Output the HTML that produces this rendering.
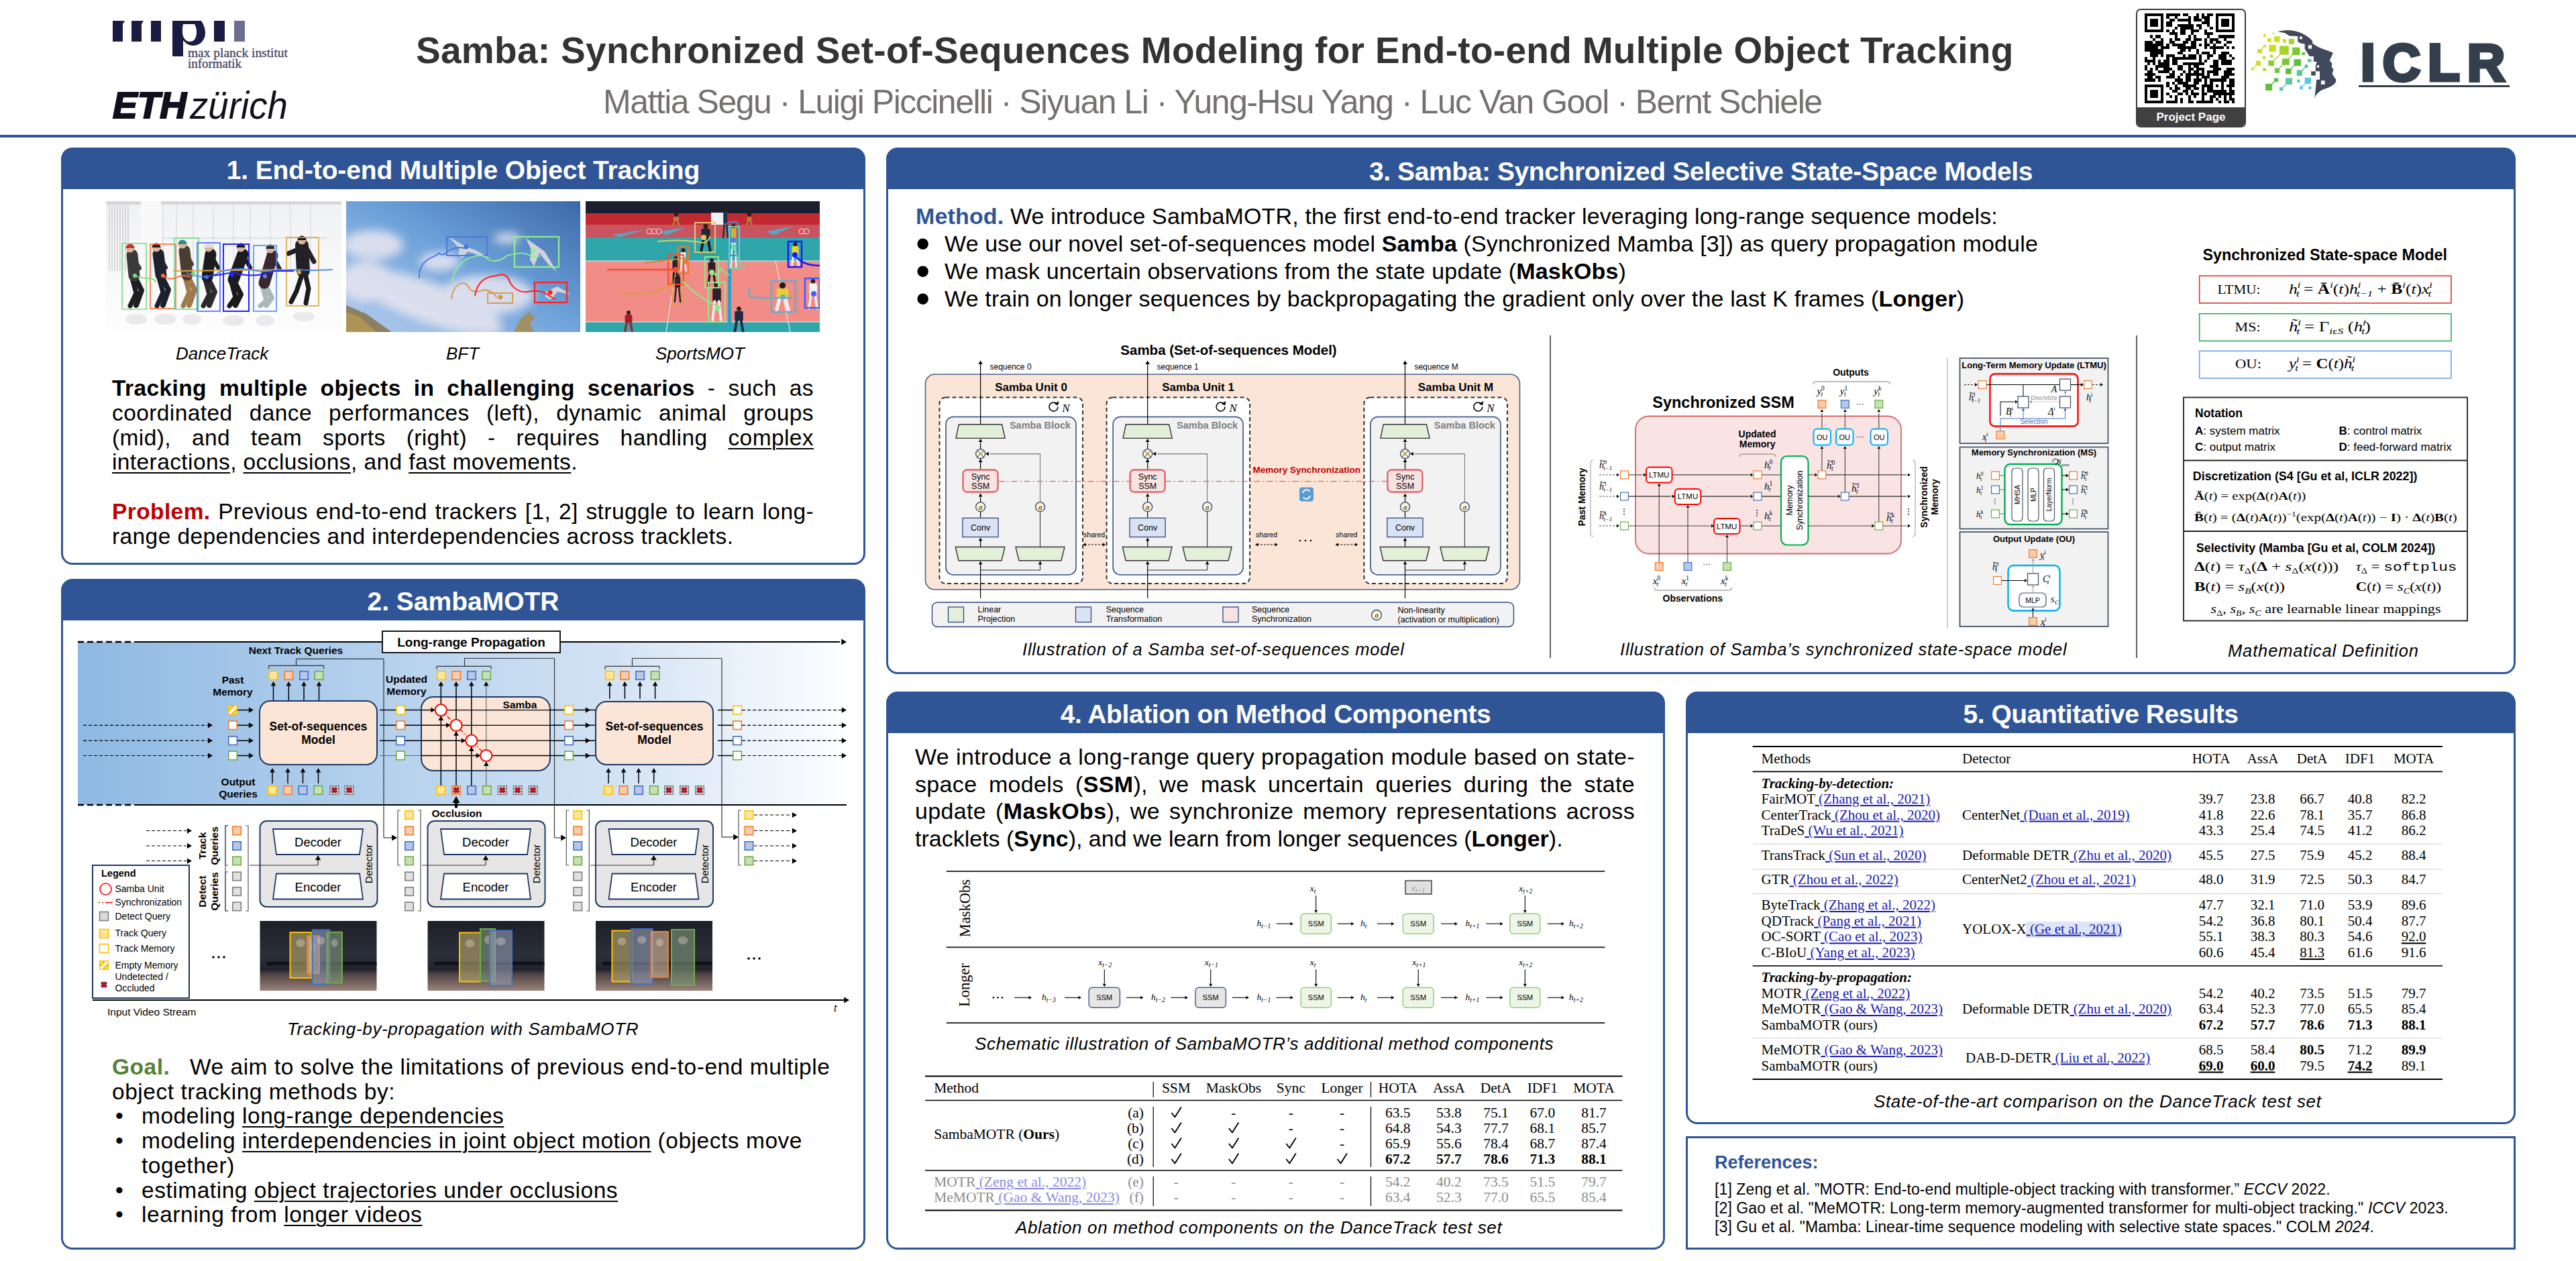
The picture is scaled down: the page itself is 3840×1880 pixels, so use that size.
<!DOCTYPE html>
<html><head><meta charset="utf-8">
<style>
*{margin:0;padding:0;box-sizing:border-box}
html,body{width:3840px;height:1880px;overflow:hidden;background:#fff}
body{position:relative;font-family:"Liberation Sans",sans-serif;color:#000}
.a{position:absolute;white-space:nowrap}
.panel{position:absolute;border:3px solid #2F5597;border-radius:17px;overflow:hidden;background:linear-gradient(#2F5597 0,#2F5597 30px,#fff 30px)}
.ph{position:absolute;left:0;top:0;right:0;background:#2F5597;color:#fff;font-weight:bold;text-align:center}
.serif{font-family:"Liberation Serif",serif}
.cap{font-style:italic;letter-spacing:0.65px}
svg{position:absolute;overflow:visible}
u{text-decoration:underline;text-decoration-thickness:2px;text-underline-offset:4px}
</style></head><body>

<!-- ===== HEADER ===== -->
<div id="hdr">
  <!-- MPI logo -->
  <svg style="left:0;top:0" width="3840" height="210" viewBox="0 0 3840 210">
    <g fill="#1A1C43">
      <path d="M168 31h18l-3 5v26h-15z"/>
      <path d="M196 31h18l-3 5v26h-15z"/>
      <rect x="225" y="31" width="15" height="31"/>
      <path d="M257 31h43c4 6 6 12 6 18c0 11-8 19-18 19c-6 0-11-3-15-8v24h-16z M273 36c-1 4-1 8-1 12c0 8 5 14 11 14c7 0 10-6 10-14c0-5-1-9-3-12z" fill-rule="evenodd"/>
      <rect x="319" y="31" width="16" height="31"/>
      <rect x="349" y="31" width="16" height="31" fill="#6A6F8F"/>
    </g>
    <text x="280" y="85" font-family="Liberation Serif" font-size="19.5" fill="#3F4262" stroke="#3F4262" stroke-width="0.3" textLength="149" lengthAdjust="spacingAndGlyphs">max planck institut</text>
    <text x="280" y="101" font-family="Liberation Serif" font-size="19.5" fill="#3F4262" stroke="#3F4262" stroke-width="0.3" textLength="80" lengthAdjust="spacingAndGlyphs">informatik</text>
    <text x="168" y="176" font-family="Liberation Sans" font-weight="bold" font-style="italic" font-size="55" fill="#110F1D" stroke="#110F1D" stroke-width="2.2" textLength="110" lengthAdjust="spacingAndGlyphs">ETH</text>
    <text x="283" y="177" font-family="Liberation Sans" font-style="italic" font-size="57" fill="#110F1D" textLength="146" lengthAdjust="spacingAndGlyphs">zürich</text>
  </svg>
  <!-- QR -->
  <div class="a" style="left:3184px;top:13px;width:164px;height:177px;border:2.5px solid #3a3a3a;border-radius:7px;background:#fff;overflow:hidden">
    <svg style="left:11px;top:5px" width="134" height="134" viewBox="0 0 33 33" shape-rendering="crispEdges"><path fill="#000" d="M0 0h7v1h-7zM8 0h5v1h-5zM14 0h2v1h-2zM19 0h1v1h-1zM21 0h1v1h-1zM23 0h2v1h-2zM26 0h7v1h-7zM0 1h1v1h-1zM6 1h1v1h-1zM8 1h1v1h-1zM11 1h1v1h-1zM16 1h1v1h-1zM18 1h2v1h-2zM21 1h3v1h-3zM26 1h1v1h-1zM32 1h1v1h-1zM0 2h1v1h-1zM2 2h3v1h-3zM6 2h1v1h-1zM9 2h2v1h-2zM12 2h5v1h-5zM18 2h3v1h-3zM22 2h2v1h-2zM26 2h1v1h-1zM28 2h3v1h-3zM32 2h1v1h-1zM0 3h1v1h-1zM2 3h3v1h-3zM6 3h1v1h-1zM8 3h2v1h-2zM16 3h1v1h-1zM21 3h3v1h-3zM26 3h1v1h-1zM28 3h3v1h-3zM32 3h1v1h-1zM0 4h1v1h-1zM2 4h3v1h-3zM6 4h1v1h-1zM8 4h2v1h-2zM12 4h6v1h-6zM19 4h2v1h-2zM23 4h1v1h-1zM26 4h1v1h-1zM28 4h3v1h-3zM32 4h1v1h-1zM0 5h1v1h-1zM6 5h1v1h-1zM11 5h1v1h-1zM13 5h5v1h-5zM20 5h1v1h-1zM24 5h1v1h-1zM26 5h1v1h-1zM32 5h1v1h-1zM0 6h7v1h-7zM8 6h1v1h-1zM10 6h1v1h-1zM13 6h2v1h-2zM17 6h3v1h-3zM22 6h1v1h-1zM26 6h7v1h-7zM9 7h3v1h-3zM13 7h2v1h-2zM17 7h1v1h-1zM22 7h3v1h-3zM2 8h1v1h-1zM4 8h2v1h-2zM11 8h1v1h-1zM16 8h1v1h-1zM18 8h1v1h-1zM23 8h1v1h-1zM27 8h6v1h-6zM3 9h1v1h-1zM6 9h1v1h-1zM9 9h1v1h-1zM11 9h2v1h-2zM15 9h2v1h-2zM18 9h3v1h-3zM22 9h1v1h-1zM24 9h3v1h-3zM29 9h1v1h-1zM0 10h3v1h-3zM4 10h3v1h-3zM9 10h2v1h-2zM14 10h2v1h-2zM17 10h2v1h-2zM22 10h1v1h-1zM24 10h1v1h-1zM26 10h2v1h-2zM30 10h2v1h-2zM0 11h7v1h-7zM8 11h1v1h-1zM10 11h5v1h-5zM17 11h2v1h-2zM20 11h1v1h-1zM22 11h2v1h-2zM25 11h1v1h-1zM29 11h1v1h-1zM0 12h5v1h-5zM6 12h3v1h-3zM12 12h7v1h-7zM22 12h1v1h-1zM24 12h5v1h-5zM30 12h1v1h-1zM32 12h1v1h-1zM0 13h7v1h-7zM13 13h2v1h-2zM16 13h1v1h-1zM19 13h1v1h-1zM25 13h1v1h-1zM2 14h5v1h-5zM12 14h2v1h-2zM19 14h1v1h-1zM21 14h3v1h-3zM25 14h1v1h-1zM28 14h3v1h-3zM2 15h3v1h-3zM6 15h1v1h-1zM8 15h3v1h-3zM14 15h1v1h-1zM16 15h3v1h-3zM20 15h1v1h-1zM23 15h2v1h-2zM27 15h3v1h-3zM31 15h1v1h-1zM0 16h1v1h-1zM3 16h1v1h-1zM8 16h1v1h-1zM10 16h9v1h-9zM20 16h1v1h-1zM23 16h1v1h-1zM27 16h3v1h-3zM32 16h1v1h-1zM0 17h4v1h-4zM5 17h1v1h-1zM7 17h2v1h-2zM10 17h2v1h-2zM20 17h1v1h-1zM22 17h1v1h-1zM25 17h2v1h-2zM28 17h4v1h-4zM1 18h1v1h-1zM3 18h1v1h-1zM5 18h4v1h-4zM10 18h2v1h-2zM14 18h8v1h-8zM25 18h2v1h-2zM28 18h4v1h-4zM0 19h1v1h-1zM4 19h5v1h-5zM12 19h2v1h-2zM16 19h1v1h-1zM18 19h2v1h-2zM24 19h3v1h-3zM0 20h1v1h-1zM2 20h1v1h-1zM4 20h1v1h-1zM7 20h3v1h-3zM12 20h2v1h-2zM16 20h2v1h-2zM19 20h3v1h-3zM25 20h3v1h-3zM30 20h3v1h-3zM1 21h2v1h-2zM5 21h4v1h-4zM10 21h1v1h-1zM14 21h1v1h-1zM16 21h1v1h-1zM18 21h2v1h-2zM21 21h1v1h-1zM23 21h4v1h-4zM29 21h3v1h-3zM0 22h4v1h-4zM9 22h2v1h-2zM13 22h1v1h-1zM15 22h7v1h-7zM23 22h1v1h-1zM25 22h2v1h-2zM29 22h4v1h-4zM1 23h2v1h-2zM4 23h2v1h-2zM8 23h3v1h-3zM12 23h1v1h-1zM15 23h2v1h-2zM19 23h1v1h-1zM21 23h3v1h-3zM28 23h3v1h-3zM0 24h4v1h-4zM5 24h1v1h-1zM11 24h3v1h-3zM15 24h2v1h-2zM18 24h3v1h-3zM22 24h1v1h-1zM24 24h6v1h-6zM31 24h2v1h-2zM8 25h1v1h-1zM10 25h1v1h-1zM12 25h4v1h-4zM18 25h2v1h-2zM22 25h1v1h-1zM24 25h1v1h-1zM28 25h1v1h-1zM31 25h2v1h-2zM0 26h7v1h-7zM8 26h1v1h-1zM11 26h1v1h-1zM14 26h5v1h-5zM21 26h4v1h-4zM26 26h1v1h-1zM28 26h1v1h-1zM30 26h3v1h-3zM0 27h1v1h-1zM6 27h1v1h-1zM9 27h1v1h-1zM11 27h2v1h-2zM15 27h2v1h-2zM18 27h2v1h-2zM21 27h1v1h-1zM23 27h2v1h-2zM28 27h1v1h-1zM31 27h1v1h-1zM0 28h1v1h-1zM2 28h3v1h-3zM6 28h1v1h-1zM10 28h2v1h-2zM14 28h2v1h-2zM17 28h1v1h-1zM21 28h1v1h-1zM23 28h7v1h-7zM31 28h2v1h-2zM0 29h1v1h-1zM2 29h3v1h-3zM6 29h1v1h-1zM8 29h1v1h-1zM12 29h2v1h-2zM15 29h1v1h-1zM17 29h3v1h-3zM21 29h2v1h-2zM25 29h8v1h-8zM0 30h1v1h-1zM2 30h3v1h-3zM6 30h1v1h-1zM9 30h1v1h-1zM11 30h1v1h-1zM16 30h1v1h-1zM18 30h1v1h-1zM21 30h1v1h-1zM24 30h2v1h-2zM27 30h1v1h-1zM29 30h1v1h-1zM31 30h1v1h-1zM0 31h1v1h-1zM6 31h1v1h-1zM11 31h1v1h-1zM13 31h1v1h-1zM16 31h1v1h-1zM21 31h1v1h-1zM24 31h1v1h-1zM26 31h1v1h-1zM29 31h1v1h-1zM31 31h2v1h-2zM0 32h7v1h-7zM8 32h4v1h-4zM13 32h1v1h-1zM16 32h2v1h-2zM19 32h6v1h-6zM27 32h1v1h-1zM29 32h2v1h-2zM32 32h1v1h-1z"/></svg>
    <div class="a" style="left:0;top:145px;width:160px;height:30px;background:#404040;color:#fff;font-weight:bold;font-size:17px;line-height:30px;text-align:center">Project Page</div>
  </div>
  <!-- ICLR -->
  <svg style="left:3350px;top:35px" width="140" height="120" viewBox="0 0 1471 1261"><rect x="250" y="165" width="45" height="45" fill="#D4E81C"/><rect x="395" y="145" width="25" height="25" fill="#D4E81C"/><rect x="315" y="230" width="60" height="60" fill="#CDE31E"/><rect x="420" y="200" width="90" height="90" fill="#C8E01E"/><rect x="555" y="245" width="55" height="55" fill="#C8E01E"/><rect x="650" y="240" width="85" height="85" fill="#A8D62A"/><rect x="255" y="335" width="40" height="40" fill="#C6E020"/><rect x="160" y="400" width="70" height="65" fill="#C6E020"/><rect x="340" y="335" width="110" height="110" fill="#C8E01E"/><rect x="505" y="350" width="145" height="140" fill="#A5D52A"/><rect x="705" y="375" width="120" height="120" fill="#7DC832"/><rect x="860" y="450" width="45" height="45" fill="#5BBF3A"/><rect x="240" y="510" width="45" height="45" fill="#C6E020"/><rect x="355" y="490" width="45" height="45" fill="#C2DD22"/><rect x="135" y="585" width="75" height="75" fill="#C8E01E"/><rect x="65" y="690" width="40" height="40" fill="#C8E01E"/><rect x="330" y="580" width="90" height="85" fill="#8CCB30"/><rect x="245" y="700" width="50" height="45" fill="#A8D62A"/><rect x="545" y="550" width="115" height="100" fill="#7AC733"/><rect x="730" y="560" width="110" height="105" fill="#5EBF3C"/><rect x="945" y="555" width="60" height="50" fill="#5DC88E"/><rect x="430" y="700" width="75" height="75" fill="#6FC535"/><rect x="600" y="705" width="90" height="90" fill="#5EBF3C"/><rect x="900" y="645" width="50" height="50" fill="#5DC48F"/><rect x="775" y="730" width="85" height="90" fill="#5DC49A"/><rect x="420" y="855" width="65" height="60" fill="#5EBF3C"/><rect x="285" y="945" width="105" height="105" fill="#5DBF3A"/><rect x="600" y="855" width="105" height="100" fill="#5DC6A0"/><rect x="505" y="1000" width="55" height="55" fill="#5DC6A0"/><rect x="780" y="880" width="45" height="45" fill="#5DC6B8"/><rect x="900" y="850" width="100" height="95" fill="#58C8EA"/><rect x="820" y="980" width="50" height="50" fill="#58C8EA"/><rect x="960" y="985" width="45" height="45" fill="#58C8EA"/><line x1="195" y1="430" x2="270" y2="355" stroke="#C6E020" stroke-width="14"/><line x1="85" y1="710" x2="170" y2="620" stroke="#C8E01E" stroke-width="14"/><line x1="375" y1="620" x2="520" y2="480" stroke="#A5D52A" stroke-width="14"/><line x1="465" y1="740" x2="600" y2="600" stroke="#7AC733" stroke-width="14"/><line x1="645" y1="750" x2="780" y2="610" stroke="#5EBF3C" stroke-width="14"/><line x1="600" y1="600" x2="720" y2="480" stroke="#7DC832" stroke-width="14"/><line x1="330" y1="1000" x2="450" y2="885" stroke="#5DBF3A" stroke-width="14"/><line x1="530" y1="1030" x2="650" y2="905" stroke="#5DC6A0" stroke-width="14"/><line x1="845" y1="1005" x2="950" y2="895" stroke="#58C8EA" stroke-width="14"/><line x1="820" y1="775" x2="925" y2="670" stroke="#5DC49A" stroke-width="14"/><path fill="#414A5C" d="M475 130C600 80 850 90 1020 270L1020 310C1100 380 1250 420 1345 460L1290 580L1330 630L1320 680L1350 720L1330 790L1390 880C1400 950 1300 1000 1200 1030C1130 1060 1080 1100 1055 1170L1085 880L1135 880L1135 750L1070 750L1070 660L1090 600L1040 600L1040 515L975 515L900 400L900 320L830 310L790 280L790 200L660 195L590 150Z"/><rect x="1000" y="750" width="70" height="65" fill="#414A5C"/><rect x="820" y="205" width="40" height="40" fill="#fff"/><rect x="955" y="340" width="55" height="55" fill="#fff"/><rect x="1090" y="655" width="35" height="35" fill="#fff"/><rect x="1155" y="895" width="60" height="60" fill="#fff"/></svg>
  <div class="a" style="left:3519px;top:48px;font-size:78px;font-weight:bold;color:#333F4D;line-height:90px;letter-spacing:11px;-webkit-text-stroke:5px #333F4D">ICLR</div>
  <div class="a" style="left:3516px;top:127px;width:225px;height:3px;background:#333F4D"></div>

  <div class="a" style="left:0;top:201px;width:3840px;height:4px;background:#2F5597"></div>
  <div class="a" id="title" style="left:620px;top:39.5px;font-size:55px;letter-spacing:0.3px;font-weight:bold;color:#333;line-height:70px">Samba: Synchronized Set-of-Sequences Modeling for End-to-end Multiple Object Tracking</div>
  <div class="a" id="authors" style="left:899px;top:121.5px;font-size:50px;letter-spacing:-1.5px;color:#767171;line-height:60px">Mattia Segu · Luigi Piccinelli · Siyuan Li · Yung-Hsu Yang · Luc Van Gool · Bernt Schiele</div>
</div>

<!-- ===== PANEL 1 ===== -->
<div class="panel" style="left:91px;top:220px;width:1199px;height:622px">
  <div class="ph" style="height:59px;font-size:39px;line-height:61px;letter-spacing:-0.14px">1. End-to-end Multiple Object Tracking</div>
</div>



<svg style="left:158px;top:300px;overflow:hidden" width="351" height="195" viewBox="0 0 351 195">
 <defs>
  <linearGradient id="dtbg" x1="0" y1="0" x2="0" y2="1"><stop offset="0" stop-color="#F0F1F3"/><stop offset="0.5" stop-color="#F8F8F9"/><stop offset="1" stop-color="#FDFDFD"/></linearGradient>
 </defs>
 <rect width="351" height="195" fill="url(#dtbg)"/>
 <rect x="0" y="0" width="351" height="5" fill="#D6D7DA"/>
 <g stroke="#C9CACD" stroke-width="1.3">
  <line x1="5" y1="5" x2="5" y2="104"/><line x1="9" y1="5" x2="9" y2="104"/><line x1="13" y1="5" x2="13" y2="104"/><line x1="17" y1="5" x2="17" y2="104"/><line x1="21" y1="5" x2="21" y2="104"/><line x1="25" y1="5" x2="25" y2="104"/><line x1="29" y1="5" x2="29" y2="104"/><line x1="33" y1="5" x2="33" y2="104"/>
 </g>
 <g stroke="#DADBDE" stroke-width="1.3" fill="none">
  <line x1="85" y1="5" x2="85" y2="104"/><line x1="105" y1="5" x2="105" y2="104"/><line x1="130" y1="5" x2="130" y2="104"/><line x1="160" y1="5" x2="160" y2="104"/><line x1="190" y1="5" x2="190" y2="104"/><line x1="215" y1="5" x2="215" y2="104"/><line x1="245" y1="5" x2="245" y2="104"/><line x1="275" y1="5" x2="275" y2="104"/><line x1="305" y1="5" x2="305" y2="104"/>
  <line x1="85" y1="55" x2="330" y2="55"/>
 </g>
 <rect x="52" y="0" width="30" height="130" fill="#F9F9FA"/>
 <g fill="#E6E6E8" opacity="0.8"><ellipse cx="45" cy="176" rx="16" ry="8"/><ellipse cx="88" cy="176" rx="16" ry="8"/><ellipse cx="128" cy="176" rx="14" ry="8"/><ellipse cx="190" cy="178" rx="16" ry="8"/><ellipse cx="237" cy="178" rx="14" ry="8"/><ellipse cx="295" cy="172" rx="16" ry="7"/></g><path d="M42 111L53 133L45 155" stroke="#1E1E22" stroke-width="8" fill="none" stroke-linejoin="round" stroke-linecap="round"/><path d="M38 111L45 137L36 156" stroke="#1E1E22" stroke-width="7" fill="none" stroke-linejoin="round" stroke-linecap="round"/><path d="M39 80L42 111" stroke="#3A3A3E" stroke-width="17" stroke-linecap="round"/><path d="M41 84L50 100" stroke="#3A3A3E" stroke-width="6" stroke-linecap="round"/><circle cx="36" cy="70" r="6.5" fill="#D8B49A"/><path d="M29.5 70a6.5 6.5 0 0 1 13 0z" fill="#C8343A"/><path d="M82 110L93 132L85 155" stroke="#1C1F2C" stroke-width="8" fill="none" stroke-linejoin="round" stroke-linecap="round"/><path d="M78 110L85 136L76 156" stroke="#1C1F2C" stroke-width="7" fill="none" stroke-linejoin="round" stroke-linecap="round"/><path d="M78 79L82 110" stroke="#1F2230" stroke-width="17" stroke-linecap="round"/><path d="M80 83L89 99" stroke="#1F2230" stroke-width="6" stroke-linecap="round"/><circle cx="75" cy="69" r="6.5" fill="#D8B49A"/><path d="M68.5 69a6.5 6.5 0 0 1 13 0z" fill="#2A2220"/><path d="M121 110L132 132L124 155" stroke="#A07A48" stroke-width="8" fill="none" stroke-linejoin="round" stroke-linecap="round"/><path d="M117 110L124 136L115 156" stroke="#A07A48" stroke-width="7" fill="none" stroke-linejoin="round" stroke-linecap="round"/><path d="M117 74L121 110" stroke="#4A3E30" stroke-width="17" stroke-linecap="round"/><path d="M119 78L128 94" stroke="#4A3E30" stroke-width="6" stroke-linecap="round"/><circle cx="114" cy="64" r="6.5" fill="#D8B49A"/><path d="M107.5 64a6.5 6.5 0 0 1 13 0z" fill="#2F8F88"/><path d="M151 113L162 135L154 155" stroke="#2A2A2A" stroke-width="8" fill="none" stroke-linejoin="round" stroke-linecap="round"/><path d="M147 113L154 139L145 156" stroke="#2A2A2A" stroke-width="7" fill="none" stroke-linejoin="round" stroke-linecap="round"/><path d="M156 79L151 113" stroke="#1C1C1C" stroke-width="17" stroke-linecap="round"/><path d="M158 83L167 99" stroke="#1C1C1C" stroke-width="6" stroke-linecap="round"/><circle cx="153" cy="69" r="6.5" fill="#D8B49A"/><path d="M146.5 69a6.5 6.5 0 0 1 13 0z" fill="#E0E0E0"/><path d="M190 117L201 139L193 155" stroke="#1A1A1A" stroke-width="8" fill="none" stroke-linejoin="round" stroke-linecap="round"/><path d="M186 117L193 143L184 156" stroke="#1A1A1A" stroke-width="7" fill="none" stroke-linejoin="round" stroke-linecap="round"/><path d="M204 79L190 117" stroke="#1C1C1E" stroke-width="17" stroke-linecap="round"/><path d="M206 83L215 99" stroke="#1C1C1E" stroke-width="6" stroke-linecap="round"/><circle cx="201" cy="69" r="6.5" fill="#D8B49A"/><path d="M194.5 69a6.5 6.5 0 0 1 13 0z" fill="#22201F"/><path d="M236 122L247 144L239 155" stroke="#A9B9BA" stroke-width="8" fill="none" stroke-linejoin="round" stroke-linecap="round"/><path d="M232 122L239 148L230 156" stroke="#A9B9BA" stroke-width="7" fill="none" stroke-linejoin="round" stroke-linecap="round"/><path d="M248 81L236 122" stroke="#3A2730" stroke-width="17" stroke-linecap="round"/><path d="M250 85L259 101" stroke="#3A2730" stroke-width="6" stroke-linecap="round"/><circle cx="245" cy="71" r="6.5" fill="#D8B49A"/><path d="M238.5 71a6.5 6.5 0 0 1 13 0z" fill="#2A2A2E"/><path d="M294 104L284 134L276 150" stroke="#1B1B1E" stroke-width="7" fill="none" stroke-linecap="round"/><path d="M296 104L302 130L298 152" stroke="#1B1B1E" stroke-width="7" fill="none" stroke-linecap="round"/><path d="M292 66L294 104" stroke="#222226" stroke-width="20" stroke-linecap="round"/><path d="M286 72L272 78M300 72L310 90" stroke="#222226" stroke-width="7" stroke-linecap="round"/><circle cx="292" cy="58" r="6.5" fill="#D8B49A"/><path d="M285.5 58a6.5 6.5 0 0 1 13 0z" fill="#1A1A1A"/><g fill="none" stroke-width="1.6">
  <rect x="24" y="63" width="36" height="98" stroke="#7EE07A"/>
  <rect x="66" y="64" width="38" height="96" stroke="#FF6A3D"/>
  <rect x="102" y="55" width="36" height="106" stroke="#6FDA8A"/>
  <rect x="136" y="62" width="34" height="102" stroke="#4466FF"/>
  <rect x="175" y="64" width="38" height="100" stroke="#2222FF" stroke-width="2"/>
  <rect x="220" y="66" width="34" height="98" stroke="#4E8FF0"/>
  <rect x="269" y="54" width="48" height="102" stroke="#D9A440"/>
  <path d="M43 111q10 4 22 4q6 0 10 6" stroke="#7EE07A" stroke-width="1.8"/>
  <path d="M85 111q10 8 22 2q10-4 20 0" stroke="#FF6A3D" stroke-width="1.8"/>
  <path d="M100 104l190-2" stroke="#D9A440" stroke-width="2.2"/>
  <path d="M120 107q30 12 50-2q30-8 60 0q50-4 80-2l28 -1" stroke="#4E8FF0" stroke-width="1.8"/>
  <path d="M150 112q20-2 40-6q30 10 60-2l30 0" stroke="#2222FF" stroke-width="2"/>
 </g>
 <g><circle cx="43" cy="111" r="3" fill="#7EE07A"/><circle cx="85" cy="111" r="3" fill="#FF6A3D"/><circle cx="130" cy="108" r="3" fill="#6FDA8A"/><circle cx="150" cy="113" r="3" fill="#4466FF"/><circle cx="188" cy="110" r="3" fill="#2222FF"/><circle cx="237" cy="112" r="3" fill="#4E8FF0"/><circle cx="288" cy="106" r="3" fill="#D9A440"/></g>
</svg>
<svg style="left:516px;top:300px;overflow:hidden" width="349" height="195" viewBox="0 0 349 195">
 <defs>
  <linearGradient id="sky" x1="1" y1="0" x2="0" y2="1"><stop offset="0" stop-color="#3D68A8"/><stop offset="0.45" stop-color="#6A9FD8"/><stop offset="1" stop-color="#B5CDEF"/></linearGradient>
  <filter id="blur6"><feGaussianBlur stdDeviation="7"/></filter>
 </defs>
 <rect width="349" height="195" fill="url(#sky)"/>
 <g fill="#E9E6F0" filter="url(#blur6)" opacity="0.85">
  <ellipse cx="40" cy="65" rx="45" ry="22"/>
  <ellipse cx="120" cy="150" rx="120" ry="30" transform="rotate(20 120 150)"/>
  <ellipse cx="210" cy="140" rx="70" ry="30"/>
  <ellipse cx="30" cy="120" rx="40" ry="30"/>
  <ellipse cx="240" cy="55" rx="20" ry="8"/>
  <ellipse cx="140" cy="90" rx="30" ry="14"/>
 </g>
 <path d="M0 155L30 168L68 195L0 195Z" fill="#8C7F62"/>
 <path d="M0 165L20 172L45 195L0 195Z" fill="#B39A52" opacity="0.8"/>
 <path d="M250 195l10-20l12-10l10 8l-8 10l6 12z" fill="#A98B45" opacity="0.8"/>
 <g fill="#CFD3DA"><path d="M153 53l26 15l14 5l22 12l-20-6l-14-4l-8 10l-6-6l2-8z"/><path d="M268 55l28 20l18 30l-12-10l-14-18l-8 20l-6-10l2-14z"/><path d="M297 135l18-8l20 12l-20-4l-10 12l-8-4z"/><path d="M218 150l30 0l14 4l-30 0z"/></g>
 <g fill="none" stroke-width="1.8">
  <rect x="150" y="53" width="60" height="28" stroke="#4E73D8"/>
  <rect x="251" y="53" width="66" height="45" stroke="#8EF08E" stroke-width="2.2"/>
  <rect x="211" y="137" width="37" height="15" stroke="#D99645"/>
  <rect x="281" y="121" width="48" height="30" stroke="#FF2020" stroke-width="2.2"/>
  <path d="M109 115q-2-20 16-30q14-6 12-8q8 6 14-2q12-8 25-5" stroke="#4E73D8"/>
  <path d="M158 119q6-28 30-36q16-6 24 4q14 6 28-6q20-6 30-2q10 6 20 2" stroke="#8EF08E"/>
  <path d="M157 146q2-20 16-24q8 0 12 10q10 6 20 0q12 0 20 12" stroke="#D99645"/>
  <path d="M192 141q4-28 32-30q16-6 20 10q10 16 26 14q20-4 30 4q8 6 12 7" stroke="#FF2020" stroke-width="2"/>
 </g>
 <circle cx="179" cy="68" r="3.5" fill="#4E73D8"/><circle cx="278" cy="74" r="3.5" fill="#8EF08E"/><circle cx="230" cy="143" r="3.5" fill="#D99645"/><circle cx="304" cy="136" r="3.5" fill="#FF2020"/>
</svg>
<svg style="left:873px;top:300px;overflow:hidden" width="349" height="195" viewBox="0 0 349 195">
 <rect width="349" height="195" fill="#F28C86"/>
 <rect width="349" height="18" fill="#1B1F30"/>
 <rect y="18" width="349" height="17" fill="#C22A31"/>
 <rect y="35" width="349" height="19" fill="#C9535E"/>
 <rect y="54" width="349" height="35" fill="#2EA6AA"/>
 <rect y="180" width="349" height="15" fill="#2EA6AA"/>
 <g fill="#3FB9D8" opacity="0.8"><path d="M40 50l50-8l-40 12z"/><path d="M110 45l40-6l-30 12z"/><path d="M270 45l40-8l-30 14z"/></g>
 <g fill="none" stroke="#fff" stroke-width="1" opacity="0.8"><circle cx="95" cy="45" r="4"/><circle cx="102" cy="45" r="4"/><circle cx="109" cy="45" r="4"/><circle cx="322" cy="45" r="4"/><circle cx="329" cy="45" r="4"/></g>
 <line x1="0" y1="89" x2="349" y2="89" stroke="#F6E6E6" stroke-width="1"/>
 <line x1="0" y1="180" x2="349" y2="180" stroke="#F6E6E6" stroke-width="1"/>
 <line x1="130" y1="130" x2="120" y2="195" stroke="#F6E6E6" stroke-width="1.2"/>
 <line x1="283" y1="89" x2="305" y2="195" stroke="#F6E6E6" stroke-width="1.2"/>
 
 <rect x="187" y="17" width="25" height="18" fill="#EEF0F4"/>
 <rect x="212" y="40" width="5" height="155" fill="#2F9FC6"/><circle cx="179.0" cy="37.52" r="3.52" fill="#2A1E1A"/><rect x="172.4" y="41.04" width="13.2" height="15.2" rx="2" fill="#2A2630"/><path d="M175.7 55.44L172.4 74M182.3 55.44L185.6 74" stroke="#1E1B24" stroke-width="4.0" stroke-linecap="round"/><circle cx="208.5" cy="13" r="3" fill="#2A1E1A"/><rect x="205.2" y="16" width="6.6" height="16.72" rx="2" fill="#22304A"/><path d="M206.85 31.84L205.2 54M210.15 31.84L211.8 54" stroke="#22304A" stroke-width="2.5" stroke-linecap="round"/><circle cx="145.5" cy="73" r="3" fill="#2A1E1A"/><rect x="141.6" y="76" width="7.8" height="12.92" rx="2" fill="#F0F0F0"/><path d="M143.55 88.24L141.6 104M147.45 88.24L149.4 104" stroke="#E8E8E8" stroke-width="2.5" stroke-linecap="round"/><circle cx="134.5" cy="85" r="3" fill="#2A1E1A"/><rect x="129.4" y="88" width="10.2" height="15.2" rx="2" fill="#2A2228"/><path d="M131.95 102.4L129.4 122M137.05 102.4L139.6 122" stroke="#1E1B24" stroke-width="3.1" stroke-linecap="round"/><circle cx="137.0" cy="109" r="3" fill="#2A1E1A"/><rect x="132.8" y="112" width="8.4" height="16.72" rx="2" fill="#2A2228"/><path d="M134.9 127.84L132.8 150M139.1 127.84L141.2 150" stroke="#2A2228" stroke-width="2.5" stroke-linecap="round"/><circle cx="188.0" cy="88" r="3" fill="#2A1E1A"/><rect x="182.6" y="91" width="10.799999999999999" height="15.96" rx="2" fill="#2A2228"/><path d="M185.3 106.12L182.6 127M190.7 106.12L193.4 127" stroke="#1E1B24" stroke-width="3.2" stroke-linecap="round"/><circle cx="195.5" cy="126.36" r="3.36" fill="#2A1E1A"/><rect x="189.2" y="129.72" width="12.6" height="20.52" rx="2" fill="#2A2228"/><path d="M192.35 149.16L189.2 177M198.65 149.16L201.8 177" stroke="#EDEDED" stroke-width="3.8" stroke-linecap="round"/><circle cx="228.5" cy="160.36" r="3.36" fill="#2A1E1A"/><rect x="222.2" y="163.72" width="12.6" height="14.44" rx="2" fill="#1F2A44"/><path d="M225.35 177.4L222.2 195M231.65 177.4L234.8 195" stroke="#1F2A44" stroke-width="3.8" stroke-linecap="round"/><circle cx="64.0" cy="166" r="3" fill="#2A1E1A"/><rect x="58.6" y="169" width="10.799999999999999" height="12.16" rx="2" fill="#A51E2A"/><path d="M61.3 180.52L58.6 195M66.7 180.52L69.4 195" stroke="#A51E2A" stroke-width="3.2" stroke-linecap="round"/><circle cx="293.5" cy="125.64" r="4.64" fill="#2A1E1A"/><rect x="284.8" y="130.28" width="17.4" height="15.58" rx="2" fill="#E6D22E"/><path d="M289.15 145.04L284.8 162M297.85 145.04L302.2 162" stroke="#F0F0F0" stroke-width="5.2" stroke-linecap="round"/><circle cx="339.0" cy="119.2" r="3.2" fill="#2A1E1A"/><rect x="333.0" y="122.4" width="12.0" height="16.72" rx="2" fill="#F2F2F2"/><path d="M336.0 138.24L333.0 160M342.0 138.24L345.0 160" stroke="#F0F0F0" stroke-width="3.6" stroke-linecap="round"/><circle cx="312.5" cy="64" r="3" fill="#2A1E1A"/><rect x="307.4" y="67" width="10.2" height="13.3" rx="2" fill="#E6D22E"/><path d="M309.95 79.6L307.4 96M315.05 79.6L317.6 96" stroke="#F0F0F0" stroke-width="3.1" stroke-linecap="round"/><circle cx="220.5" cy="37" r="3" fill="#2A1E1A"/><rect x="216.6" y="40" width="7.8" height="24.32" rx="2" fill="#D4B030"/><path d="M218.55 63.04L216.6 98M222.45 63.04L224.4 98" stroke="#F0F0F0" stroke-width="2.5" stroke-linecap="round"/><circle cx="135.0" cy="20" r="3" fill="#2A1E1A"/><rect x="130.8" y="23" width="8.4" height="6.84" rx="2" fill="#C07A40"/><path d="M132.9 29.48L130.8 35M137.1 29.48L139.2 35" stroke="#C07A40" stroke-width="2.5" stroke-linecap="round"/><circle cx="244.0" cy="20" r="3" fill="#2A1E1A"/><rect x="240.4" y="23" width="7.199999999999999" height="6.84" rx="2" fill="#C07A40"/><path d="M242.2 29.48L240.4 35M245.8 29.48L247.6 35" stroke="#C07A40" stroke-width="2.5" stroke-linecap="round"/>
 <g fill="none" stroke-width="2">
  <rect x="163" y="32" width="30" height="44" stroke="#D8CC66"/>
  <rect x="138" y="68" width="15" height="40" stroke="#E87A35"/>
  <rect x="123" y="80" width="23" height="44" stroke="#FF4A2A"/>
  <rect x="129" y="105" width="15" height="48" stroke="#D9A040" opacity="0.7"/>
  <rect x="178" y="83" width="20" height="46" stroke="#8EEA8A"/>
  <rect x="183" y="121" width="25" height="59" stroke="#8EEA8A"/>
  <rect x="214" y="31" width="13" height="50" stroke="#4E80E8"/>
  <rect x="214" y="38" width="15" height="62" stroke="#6ED8A8"/>
  <rect x="302" y="60" width="20" height="38" stroke="#1A1AFF" stroke-width="2.5"/>
  <rect x="277" y="119" width="36" height="46" stroke="#5FB0D0" stroke-width="2.5"/>
  <rect x="327" y="115" width="22" height="44" stroke="#3A60FF" stroke-width="2.5"/>
  <path d="M107 60q30-4 70 2q8-4 8-10" stroke="#D8CC66"/>
  <path d="M88 92l65-8" stroke="#E87A35"/>
  <path d="M32 102l108 0" stroke="#FF4A2A" stroke-width="2.5"/>
  <path d="M51 136q40 8 80-12" stroke="#D9A040"/>
  <path d="M145 120q30 30 58 38" stroke="#8EEA8A"/>
  <path d="M188 106q8 10 14-6q6 8 12 10" stroke="#8EEA8A"/>
  <path d="M221 68q8 30 18 30" stroke="#6ED8A8"/>
  <path d="M312 80q10 16 37 16" stroke="#1A1AFF" stroke-width="2.5"/>
  <path d="M246 130q-10 14 12 14l50 0" stroke="#5FB0D0" stroke-width="2.5"/>
 </g>
 <g><circle cx="176" cy="54" r="4" fill="#D8CC66"/><circle cx="148" cy="90" r="4" fill="#E87A35"/><circle cx="134" cy="102" r="4" fill="#FF4A2A"/><circle cx="188" cy="106" r="4" fill="#8EEA8A"/><circle cx="196" cy="160" r="4" fill="#8EEA8A"/><circle cx="220" cy="58" r="4" fill="#4E80E8"/><circle cx="221" cy="68" r="4" fill="#6ED8A8"/><circle cx="312" cy="80" r="4" fill="#1A1AFF"/><circle cx="294" cy="143" r="4" fill="#5FB0D0"/><circle cx="340" cy="138" r="4" fill="#3A60FF"/></g>
</svg>
<div class="a cap" style="left:262px;top:512px;letter-spacing:0;font-size:26px;line-height:30px">DanceTrack</div>
<div class="a cap" style="left:665px;top:512px;letter-spacing:0;font-size:26px;line-height:30px">BFT</div>
<div class="a cap" style="left:977px;top:512px;letter-spacing:0;font-size:26px;line-height:30px">SportsMOT</div>
<div class="a" id="p1txt" style="left:167px;top:561px;width:1046px;font-size:33.5px;line-height:36.8px;letter-spacing:0.4px">
<div style="text-align:justify;text-align-last:justify"><b>Tracking multiple objects in challenging scenarios</b> - such as</div>
<div style="text-align:justify;text-align-last:justify">coordinated dance performances (left), dynamic animal groups</div>
<div style="text-align:justify;text-align-last:justify">(mid), and team sports (right) - requires handling <u>complex</u></div>
<div><u>interactions</u>, <u>occlusions</u>, and <u>fast movements</u>.</div>
<div>&nbsp;</div>
<div style="text-align:justify;text-align-last:justify"><b style="color:#C00000">Problem.</b> Previous end-to-end trackers [1, 2] struggle to learn long-</div>
<div>range dependencies and interdependencies across tracklets.</div>
</div>

<!-- ===== PANEL 2 ===== -->
<div class="panel" style="left:91px;top:863px;width:1199px;height:1000px">
  <div class="ph" style="height:59px;font-size:39px;line-height:61px">2. SambaMOTR</div>
</div>

<!-- P2CONTENT --><svg style="left:100px;top:930px" width="1180" height="600" viewBox="100 930 1180 600" font-family="Liberation Sans, sans-serif"><defs><linearGradient id="p2bg" x1="0" y1="0" x2="1" y2="0"><stop offset="0" stop-color="#8EB9E3"/><stop offset="0.45" stop-color="#BAD4EE"/><stop offset="0.7" stop-color="#D3E3F4"/><stop offset="1" stop-color="#FDFEFF"/></linearGradient></defs><defs><linearGradient id="frbg" x1="0" y1="0" x2="0" y2="1"><stop offset="0" stop-color="#1D2027"/><stop offset="0.5" stop-color="#2B2F3A"/><stop offset="0.7" stop-color="#20232B"/><stop offset="0.76" stop-color="#4E4244"/><stop offset="1" stop-color="#9A8279"/></linearGradient></defs><rect x="116" y="957" width="1146" height="243" fill="url(#p2bg)"/><line x1="116" y1="957" x2="200" y2="957" stroke="#000" stroke-width="2.5" stroke-dasharray="9 5"/><line x1="200" y1="957" x2="1252" y2="957" stroke="#000" stroke-width="2.2"/><line x1="116" y1="1200" x2="200" y2="1200" stroke="#000" stroke-width="2.5" stroke-dasharray="9 5"/><line x1="200" y1="1200" x2="1262" y2="1200" stroke="#000" stroke-width="2.2"/><path d="M1262 957L1254.2 952.5L1254.2 961.5Z" fill="#000"/><rect x="570" y="941" width="265" height="32" fill="#fff" stroke="#000" stroke-width="1.8"/><text x="702.5" y="964" font-size="19" font-weight="bold"  text-anchor="middle" >Long-range Propagation</text><rect x="401.2" y="1000.8" width="12.5" height="12.5" fill="#FFE699" stroke="#FFC000" stroke-width="1.6"/><rect x="424.1" y="1000.8" width="12.5" height="12.5" fill="#F8CBAD" stroke="#ED7D31" stroke-width="1.6"/><rect x="446.8" y="1000.8" width="12.5" height="12.5" fill="#B4C7E7" stroke="#4472C4" stroke-width="1.6"/><rect x="469.2" y="1000.8" width="12.5" height="12.5" fill="#C5E0B4" stroke="#70AD47" stroke-width="1.6"/><line x1="407.5" y1="1045" x2="407.5" y2="1022" stroke="#000" stroke-width="1.5"/><path d="M407.5 1016L403.75 1022.5L411.25 1022.5Z" fill="#000"/><line x1="430.3" y1="1045" x2="430.3" y2="1022" stroke="#000" stroke-width="1.5"/><path d="M430.3 1016L426.55 1022.5L434.05 1022.5Z" fill="#000"/><line x1="453" y1="1045" x2="453" y2="1022" stroke="#000" stroke-width="1.5"/><path d="M453 1016L449.25 1022.5L456.75 1022.5Z" fill="#000"/><line x1="475.5" y1="1045" x2="475.5" y2="1022" stroke="#000" stroke-width="1.5"/><path d="M475.5 1016L471.75 1022.5L479.25 1022.5Z" fill="#000"/><line x1="400.5" y1="992.4" x2="482.5" y2="992.4" stroke="#333" stroke-width="1.2"/><line x1="400.5" y1="992.4" x2="400.5" y2="997" stroke="#333" stroke-width="1.2"/><line x1="482.5" y1="992.4" x2="482.5" y2="997" stroke="#333" stroke-width="1.2"/><line x1="441.5" y1="992.4" x2="441.5" y2="982.4" stroke="#333" stroke-width="1.2"/><line x1="441.5" y1="982.4" x2="572" y2="982.4" stroke="#333" stroke-width="1.2"/><line x1="572" y1="982.4" x2="572" y2="1249" stroke="#333" stroke-width="1.2"/><line x1="572" y1="1249" x2="584" y2="1249" stroke="#333" stroke-width="1.2"/><path d="M592 1249L584.2 1244.5L584.2 1253.5Z" fill="#000"/><text x="441" y="975" font-size="15.5" font-weight="bold"  text-anchor="middle" >Next Track Queries</text><text x="347" y="1019" font-size="15.5" font-weight="bold"  text-anchor="middle" >Past</text><text x="347" y="1037" font-size="15.5" font-weight="bold"  text-anchor="middle" >Memory</text><rect x="340.75" y="1052.35" width="12.5" height="12.5" fill="#FFC000" stroke="#FFC000" stroke-width="1.6"/><path d="M342 1063.6L352 1053.6" stroke="#fff" stroke-width="4"/><path d="M342 1055.6L344 1053.6M350 1063.6L352 1061.6" stroke="#fff" stroke-width="1.5"/><rect x="340.8" y="1075.0" width="12.5" height="12.5" fill="#fff" stroke="#ED7D31" stroke-width="1.6"/><rect x="340.8" y="1098.0" width="12.5" height="12.5" fill="#fff" stroke="#4472C4" stroke-width="1.6"/><rect x="340.8" y="1120.2" width="12.5" height="12.5" fill="#fff" stroke="#70AD47" stroke-width="1.6"/><line x1="354" y1="1058.6" x2="371" y2="1058.6" stroke="#000" stroke-width="1.5"/><path d="M378 1058.6L370.85 1054.475L370.85 1062.725Z" fill="#000"/><line x1="354" y1="1081.3" x2="371" y2="1081.3" stroke="#000" stroke-width="1.5"/><path d="M378 1081.3L370.85 1077.175L370.85 1085.425Z" fill="#000"/><line x1="354" y1="1104.2" x2="371" y2="1104.2" stroke="#000" stroke-width="1.5"/><path d="M378 1104.2L370.85 1100.075L370.85 1108.325Z" fill="#000"/><line x1="354" y1="1126.5" x2="371" y2="1126.5" stroke="#000" stroke-width="1.5"/><path d="M378 1126.5L370.85 1122.375L370.85 1130.625Z" fill="#000"/><line x1="124" y1="1081.3" x2="309" y2="1081.3" stroke="#000" stroke-width="1.2" stroke-dasharray="5 3"/><path d="M317 1081.3L309.85 1077.175L309.85 1085.425Z" fill="#000"/><line x1="124" y1="1104.2" x2="309" y2="1104.2" stroke="#000" stroke-width="1.2" stroke-dasharray="5 3"/><path d="M317 1104.2L309.85 1100.075L309.85 1108.325Z" fill="#000"/><line x1="124" y1="1126.5" x2="309" y2="1126.5" stroke="#000" stroke-width="1.2" stroke-dasharray="5 3"/><path d="M317 1126.5L309.85 1122.375L309.85 1130.625Z" fill="#000"/><rect x="387" y="1045" width="175" height="95" rx="16" fill="#FBE5D6" stroke="#1F3864" stroke-width="2"/><text x="474.5" y="1089" font-size="17.5" font-weight="bold"  text-anchor="middle" >Set-of-sequences</text><text x="474.5" y="1109" font-size="17.5" font-weight="bold"  text-anchor="middle" >Model</text><rect x="399.8" y="1171.8" width="12.5" height="12.5" fill="#FFE699" stroke="#FFC000" stroke-width="1.6"/><rect x="422.8" y="1171.8" width="12.5" height="12.5" fill="#F8CBAD" stroke="#ED7D31" stroke-width="1.6"/><rect x="445.2" y="1171.8" width="12.5" height="12.5" fill="#B4C7E7" stroke="#4472C4" stroke-width="1.6"/><rect x="468.2" y="1171.8" width="12.5" height="12.5" fill="#C5E0B4" stroke="#70AD47" stroke-width="1.6"/><rect x="492.2" y="1171.8" width="12.5" height="12.5" fill="#F0F0F0" stroke="#7F7F7F" stroke-width="1.6"/><path d="M495.0 1174.5L502.0 1181.5M502.0 1174.5L495.0 1181.5" stroke="#1F3864" stroke-width="4.2"/><path d="M495.0 1174.5L502.0 1181.5M502.0 1174.5L495.0 1181.5" stroke="#FF0000" stroke-width="2"/><rect x="514.2" y="1171.8" width="12.5" height="12.5" fill="#F0F0F0" stroke="#7F7F7F" stroke-width="1.6"/><path d="M517.0 1174.5L524.0 1181.5M524.0 1174.5L517.0 1181.5" stroke="#1F3864" stroke-width="4.2"/><path d="M517.0 1174.5L524.0 1181.5M524.0 1174.5L517.0 1181.5" stroke="#FF0000" stroke-width="2"/><line x1="406" y1="1168" x2="406" y2="1151" stroke="#000" stroke-width="1.5"/><path d="M406 1145L402.25 1151.5L409.75 1151.5Z" fill="#000"/><line x1="429" y1="1168" x2="429" y2="1151" stroke="#000" stroke-width="1.5"/><path d="M429 1145L425.25 1151.5L432.75 1151.5Z" fill="#000"/><line x1="451.5" y1="1168" x2="451.5" y2="1151" stroke="#000" stroke-width="1.5"/><path d="M451.5 1145L447.75 1151.5L455.25 1151.5Z" fill="#000"/><line x1="474.5" y1="1168" x2="474.5" y2="1151" stroke="#000" stroke-width="1.5"/><path d="M474.5 1145L470.75 1151.5L478.25 1151.5Z" fill="#000"/><text x="355" y="1171" font-size="15.5" font-weight="bold"  text-anchor="middle" >Output</text><text x="355" y="1189" font-size="15.5" font-weight="bold"  text-anchor="middle" >Queries</text><line x1="566" y1="1058.6" x2="628" y2="1058.6" stroke="#000" stroke-width="1.5"/><rect x="590.8" y="1052.3" width="12.5" height="12.5" fill="#fff" stroke="#FFC000" stroke-width="1.6"/><line x1="566" y1="1081.3" x2="628" y2="1081.3" stroke="#000" stroke-width="1.5"/><rect x="590.8" y="1075.0" width="12.5" height="12.5" fill="#fff" stroke="#ED7D31" stroke-width="1.6"/><line x1="566" y1="1104.2" x2="628" y2="1104.2" stroke="#000" stroke-width="1.5"/><rect x="590.8" y="1098.0" width="12.5" height="12.5" fill="#fff" stroke="#4472C4" stroke-width="1.6"/><line x1="566" y1="1126.5" x2="628" y2="1126.5" stroke="#666" stroke-width="1"/><rect x="590.8" y="1120.2" width="12.5" height="12.5" fill="#fff" stroke="#70AD47" stroke-width="1.6"/><text x="606" y="1018" font-size="15.5" font-weight="bold"  text-anchor="middle" >Updated</text><text x="606" y="1036" font-size="15.5" font-weight="bold"  text-anchor="middle" >Memory</text><rect x="628" y="1039" width="192" height="110" rx="18" fill="#FBE5D6" stroke="#1F3864" stroke-width="2"/><text x="775" y="1055.5" font-size="15.5" font-weight="bold"  text-anchor="middle" >Samba</text><rect x="651.8" y="1000.8" width="12.5" height="12.5" fill="#FFE699" stroke="#FFC000" stroke-width="1.6"/><rect x="674.0" y="1000.8" width="12.5" height="12.5" fill="#F8CBAD" stroke="#ED7D31" stroke-width="1.6"/><rect x="696.8" y="1000.8" width="12.5" height="12.5" fill="#B4C7E7" stroke="#4472C4" stroke-width="1.6"/><rect x="718.8" y="1000.8" width="12.5" height="12.5" fill="#C5E0B4" stroke="#70AD47" stroke-width="1.6"/><line x1="651" y1="993.4" x2="732" y2="993.4" stroke="#333" stroke-width="1.2"/><line x1="651" y1="993.4" x2="651" y2="998" stroke="#333" stroke-width="1.2"/><line x1="732" y1="993.4" x2="732" y2="998" stroke="#333" stroke-width="1.2"/><line x1="692.5" y1="993.4" x2="692.5" y2="981.5" stroke="#333" stroke-width="1.2"/><line x1="692.5" y1="981.5" x2="826.5" y2="981.5" stroke="#333" stroke-width="1.2"/><line x1="826.5" y1="981.5" x2="826.5" y2="1249" stroke="#333" stroke-width="1.2"/><line x1="826.5" y1="1249" x2="836" y2="1249" stroke="#333" stroke-width="1.2"/><path d="M844 1249L836.2 1244.5L836.2 1253.5Z" fill="#000"/><line x1="657.3" y1="1171" x2="657.3" y2="1022" stroke="#000" stroke-width="1.5"/><path d="M657.3 1016L653.55 1022.5L661.05 1022.5Z" fill="#000"/><line x1="680" y1="1171" x2="680" y2="1022" stroke="#000" stroke-width="1.5"/><path d="M680 1016L676.25 1022.5L683.75 1022.5Z" fill="#000"/><line x1="702.8" y1="1171" x2="702.8" y2="1022" stroke="#000" stroke-width="1.5"/><path d="M702.8 1016L699.05 1022.5L706.55 1022.5Z" fill="#000"/><line x1="724.8" y1="1171" x2="724.8" y2="1022" stroke="#555" stroke-width="1"/><path d="M724.8 1016L721.05 1022.5L728.55 1022.5Z" fill="#000"/><line x1="820" y1="1058.6" x2="888" y2="1058.6" stroke="#000" stroke-width="1.5"/><line x1="628" y1="1058.6" x2="648.3" y2="1058.6" stroke="#000" stroke-width="1.5"/><path d="M648.8 1058.6L642.3 1054.85L642.3 1062.35Z" fill="#000"/><line x1="666.3" y1="1058.6" x2="820" y2="1058.6" stroke="#000" stroke-width="1.2"/><line x1="820" y1="1081.3" x2="888" y2="1081.3" stroke="#000" stroke-width="1.5"/><line x1="628" y1="1081.3" x2="671" y2="1081.3" stroke="#000" stroke-width="1.5"/><path d="M671.5 1081.3L665.0 1077.55L665.0 1085.05Z" fill="#000"/><line x1="689" y1="1081.3" x2="820" y2="1081.3" stroke="#000" stroke-width="1.2"/><path d="M657.3 1067.6L653.55 1074.1L661.05 1074.1Z" fill="#000"/><line x1="820" y1="1104.2" x2="888" y2="1104.2" stroke="#000" stroke-width="1.5"/><line x1="628" y1="1104.2" x2="693.8" y2="1104.2" stroke="#000" stroke-width="1.5"/><path d="M694.3 1104.2L687.8 1100.45L687.8 1107.95Z" fill="#000"/><line x1="711.8" y1="1104.2" x2="820" y2="1104.2" stroke="#000" stroke-width="1.2"/><path d="M680 1090.3L676.25 1096.8L683.75 1096.8Z" fill="#000"/><line x1="820" y1="1126.5" x2="888" y2="1126.5" stroke="#000" stroke-width="1.5"/><line x1="628" y1="1126.5" x2="715.8" y2="1126.5" stroke="#000" stroke-width="1.5"/><path d="M716.3 1126.5L709.8 1122.75L709.8 1130.25Z" fill="#000"/><line x1="733.8" y1="1126.5" x2="820" y2="1126.5" stroke="#000" stroke-width="1.5"/><path d="M702.8 1113.2L699.05 1119.7L706.55 1119.7Z" fill="#000"/><path d="M657.3 1058.6L680 1081.3L702.8 1104.2L724.8 1126.5" stroke="#FF0000" stroke-width="1.5" stroke-dasharray="6 3 1.5 3" fill="none"/><circle cx="657.3" cy="1058.6" r="8.6" fill="#fff" stroke="#FF0000" stroke-width="2"/><circle cx="680" cy="1081.3" r="8.6" fill="#fff" stroke="#FF0000" stroke-width="2"/><circle cx="702.8" cy="1104.2" r="8.6" fill="#fff" stroke="#FF0000" stroke-width="2"/><circle cx="724.8" cy="1126.5" r="8.6" fill="#fff" stroke="#FF0000" stroke-width="2"/><path d="M724.8 1135.5L721.05 1142.0L728.55 1142.0Z" fill="#000"/><rect x="651.0" y="1171.8" width="12.5" height="12.5" fill="#FFE699" stroke="#FFC000" stroke-width="1.6"/><rect x="673.9" y="1171.8" width="12.5" height="12.5" fill="#F8CBAD" stroke="#ED7D31" stroke-width="1.6"/><path d="M676.6 1174.5L683.6 1181.5M683.6 1174.5L676.6 1181.5" stroke="#1F3864" stroke-width="4.2"/><path d="M676.6 1174.5L683.6 1181.5M683.6 1174.5L676.6 1181.5" stroke="#FF0000" stroke-width="2"/><rect x="696.8" y="1171.8" width="12.5" height="12.5" fill="#B4C7E7" stroke="#4472C4" stroke-width="1.6"/><rect x="719.6" y="1171.8" width="12.5" height="12.5" fill="#C5E0B4" stroke="#70AD47" stroke-width="1.6"/><rect x="742.5" y="1171.8" width="12.5" height="12.5" fill="#F0F0F0" stroke="#7F7F7F" stroke-width="1.6"/><path d="M745.3 1174.5L752.3 1181.5M752.3 1174.5L745.3 1181.5" stroke="#1F3864" stroke-width="4.2"/><path d="M745.3 1174.5L752.3 1181.5M752.3 1174.5L745.3 1181.5" stroke="#FF0000" stroke-width="2"/><rect x="765.5" y="1171.8" width="12.5" height="12.5" fill="#F0F0F0" stroke="#7F7F7F" stroke-width="1.6"/><path d="M768.2 1174.5L775.2 1181.5M775.2 1174.5L768.2 1181.5" stroke="#1F3864" stroke-width="4.2"/><path d="M768.2 1174.5L775.2 1181.5M775.2 1174.5L768.2 1181.5" stroke="#FF0000" stroke-width="2"/><rect x="788.4" y="1171.8" width="12.5" height="12.5" fill="#F0F0F0" stroke="#7F7F7F" stroke-width="1.6"/><path d="M791.1 1174.5L798.1 1181.5M798.1 1174.5L791.1 1181.5" stroke="#1F3864" stroke-width="4.2"/><path d="M791.1 1174.5L798.1 1181.5M798.1 1174.5L791.1 1181.5" stroke="#FF0000" stroke-width="2"/><path d="M680 1187L674.5 1197L678 1197L678 1204.5L682 1204.5L682 1197L685.5 1197Z" fill="#000"/><text x="681" y="1217.5" font-size="15.5" font-weight="bold"  text-anchor="middle" >Occlusion</text><rect x="841.8" y="1052.3" width="12.5" height="12.5" fill="#fff" stroke="#FFC000" stroke-width="1.6"/><path d="M880 1058.6L872.85 1054.475L872.85 1062.725Z" fill="#000"/><rect x="841.8" y="1075.0" width="12.5" height="12.5" fill="#fff" stroke="#ED7D31" stroke-width="1.6"/><path d="M880 1081.3L872.85 1077.175L872.85 1085.425Z" fill="#000"/><rect x="841.8" y="1098.0" width="12.5" height="12.5" fill="#fff" stroke="#4472C4" stroke-width="1.6"/><path d="M880 1104.2L872.85 1100.075L872.85 1108.325Z" fill="#000"/><rect x="841.8" y="1120.2" width="12.5" height="12.5" fill="#fff" stroke="#70AD47" stroke-width="1.6"/><path d="M880 1126.5L872.85 1122.375L872.85 1130.625Z" fill="#000"/><rect x="888" y="1046" width="175" height="94" rx="16" fill="#FBE5D6" stroke="#1F3864" stroke-width="2"/><text x="975.5" y="1089" font-size="17.5" font-weight="bold"  text-anchor="middle" >Set-of-sequences</text><text x="975.5" y="1109" font-size="17.5" font-weight="bold"  text-anchor="middle" >Model</text><rect x="902.5" y="1000.8" width="12.5" height="12.5" fill="#FFE699" stroke="#FFC000" stroke-width="1.6"/><rect x="925.1" y="1000.8" width="12.5" height="12.5" fill="#F8CBAD" stroke="#ED7D31" stroke-width="1.6"/><rect x="947.8" y="1000.8" width="12.5" height="12.5" fill="#B4C7E7" stroke="#4472C4" stroke-width="1.6"/><rect x="970.4" y="1000.8" width="12.5" height="12.5" fill="#C5E0B4" stroke="#70AD47" stroke-width="1.6"/><line x1="908.8" y1="1042" x2="908.8" y2="1022" stroke="#000" stroke-width="1.5"/><path d="M908.8 1016L905.05 1022.5L912.55 1022.5Z" fill="#000"/><line x1="931.4" y1="1042" x2="931.4" y2="1022" stroke="#000" stroke-width="1.5"/><path d="M931.4 1016L927.65 1022.5L935.15 1022.5Z" fill="#000"/><line x1="954" y1="1042" x2="954" y2="1022" stroke="#000" stroke-width="1.5"/><path d="M954 1016L950.25 1022.5L957.75 1022.5Z" fill="#000"/><line x1="976.6" y1="1042" x2="976.6" y2="1022" stroke="#000" stroke-width="1.5"/><path d="M976.6 1016L972.85 1022.5L980.35 1022.5Z" fill="#000"/><line x1="902" y1="993.4" x2="983" y2="993.4" stroke="#333" stroke-width="1.2"/><line x1="902" y1="993.4" x2="902" y2="998" stroke="#333" stroke-width="1.2"/><line x1="983" y1="993.4" x2="983" y2="998" stroke="#333" stroke-width="1.2"/><line x1="942.5" y1="993.4" x2="942.5" y2="981.5" stroke="#333" stroke-width="1.2"/><line x1="942.5" y1="981.5" x2="1076" y2="981.5" stroke="#333" stroke-width="1.2"/><line x1="1076" y1="981.5" x2="1076" y2="1248" stroke="#333" stroke-width="1.2"/><line x1="1076" y1="1248" x2="1093" y2="1248" stroke="#333" stroke-width="1.2"/><path d="M1101 1248L1093.2 1243.5L1093.2 1252.5Z" fill="#000"/><rect x="900.8" y="1171.8" width="12.5" height="12.5" fill="#FFE699" stroke="#FFC000" stroke-width="1.6"/><rect x="923.2" y="1171.8" width="12.5" height="12.5" fill="#F8CBAD" stroke="#ED7D31" stroke-width="1.6"/><rect x="945.8" y="1171.8" width="12.5" height="12.5" fill="#B4C7E7" stroke="#4472C4" stroke-width="1.6"/><rect x="968.5" y="1171.8" width="12.5" height="12.5" fill="#C5E0B4" stroke="#70AD47" stroke-width="1.6"/><rect x="990.8" y="1171.8" width="12.5" height="12.5" fill="#F0F0F0" stroke="#7F7F7F" stroke-width="1.6"/><path d="M993.5 1174.5L1000.5 1181.5M1000.5 1174.5L993.5 1181.5" stroke="#1F3864" stroke-width="4.2"/><path d="M993.5 1174.5L1000.5 1181.5M1000.5 1174.5L993.5 1181.5" stroke="#FF0000" stroke-width="2"/><rect x="1013.8" y="1171.8" width="12.5" height="12.5" fill="#F0F0F0" stroke="#7F7F7F" stroke-width="1.6"/><path d="M1016.5 1174.5L1023.5 1181.5M1023.5 1174.5L1016.5 1181.5" stroke="#1F3864" stroke-width="4.2"/><path d="M1016.5 1174.5L1023.5 1181.5M1023.5 1174.5L1016.5 1181.5" stroke="#FF0000" stroke-width="2"/><rect x="1036.8" y="1171.8" width="12.5" height="12.5" fill="#F0F0F0" stroke="#7F7F7F" stroke-width="1.6"/><path d="M1039.5 1174.5L1046.5 1181.5M1046.5 1174.5L1039.5 1181.5" stroke="#1F3864" stroke-width="4.2"/><path d="M1039.5 1174.5L1046.5 1181.5M1046.5 1174.5L1039.5 1181.5" stroke="#FF0000" stroke-width="2"/><line x1="907" y1="1168" x2="907" y2="1151" stroke="#000" stroke-width="1.5"/><path d="M907 1145L903.25 1151.5L910.75 1151.5Z" fill="#000"/><line x1="929.5" y1="1168" x2="929.5" y2="1151" stroke="#000" stroke-width="1.5"/><path d="M929.5 1145L925.75 1151.5L933.25 1151.5Z" fill="#000"/><line x1="952" y1="1168" x2="952" y2="1151" stroke="#000" stroke-width="1.5"/><path d="M952 1145L948.25 1151.5L955.75 1151.5Z" fill="#000"/><line x1="974.7" y1="1168" x2="974.7" y2="1151" stroke="#000" stroke-width="1.5"/><path d="M974.7 1145L970.95 1151.5L978.45 1151.5Z" fill="#000"/><line x1="1070" y1="1058.6" x2="1092" y2="1058.6" stroke="#000" stroke-width="1.5"/><rect x="1092.8" y="1052.3" width="12.5" height="12.5" fill="#fff" stroke="#FFC000" stroke-width="1.6"/><line x1="1106" y1="1058.6" x2="1255" y2="1058.6" stroke="#000" stroke-width="1.2" stroke-dasharray="5 3"/><path d="M1262 1058.6L1254.85 1054.475L1254.85 1062.725Z" fill="#000"/><line x1="1070" y1="1081.3" x2="1092" y2="1081.3" stroke="#000" stroke-width="1.5"/><rect x="1092.8" y="1075.0" width="12.5" height="12.5" fill="#fff" stroke="#ED7D31" stroke-width="1.6"/><line x1="1106" y1="1081.3" x2="1255" y2="1081.3" stroke="#000" stroke-width="1.2" stroke-dasharray="5 3"/><path d="M1262 1081.3L1254.85 1077.175L1254.85 1085.425Z" fill="#000"/><line x1="1070" y1="1104.2" x2="1092" y2="1104.2" stroke="#000" stroke-width="1.5"/><rect x="1092.8" y="1098.0" width="12.5" height="12.5" fill="#fff" stroke="#4472C4" stroke-width="1.6"/><line x1="1106" y1="1104.2" x2="1255" y2="1104.2" stroke="#000" stroke-width="1.2" stroke-dasharray="5 3"/><path d="M1262 1104.2L1254.85 1100.075L1254.85 1108.325Z" fill="#000"/><line x1="1070" y1="1126.5" x2="1092" y2="1126.5" stroke="#000" stroke-width="1.5"/><rect x="1092.8" y="1120.2" width="12.5" height="12.5" fill="#fff" stroke="#70AD47" stroke-width="1.6"/><line x1="1106" y1="1126.5" x2="1255" y2="1126.5" stroke="#000" stroke-width="1.2" stroke-dasharray="5 3"/><path d="M1262 1126.5L1254.85 1122.375L1254.85 1130.625Z" fill="#000"/><rect x="387.5" y="1224" width="175" height="128" rx="10" fill="#E7E6E6" stroke="#1F3864" stroke-width="2"/><path d="M407.0 1236H541.0L536.0 1274H412.0Z" fill="#fff" stroke="#1F3864" stroke-width="1.8"/><path d="M412.0 1302.5H536.0L541.0 1340.5H407.0Z" fill="#fff" stroke="#1F3864" stroke-width="1.8"/><text x="474.0" y="1262" font-size="18.5"   text-anchor="middle" >Decoder</text><text x="474.0" y="1328.5" font-size="18.5"   text-anchor="middle" >Encoder</text><text x="0" y="0" font-size="15.5" text-anchor="middle" transform="translate(555.0 1288) rotate(-90)">Detector</text><line x1="372" y1="1290" x2="474.0" y2="1290" stroke="#333" stroke-width="1.2"/><line x1="474.0" y1="1290" x2="474.0" y2="1281" stroke="#333" stroke-width="1.2"/><path d="M474.0 1275L469.875 1282.15L478.125 1282.15Z" fill="#000"/><rect x="346.8" y="1232.2" width="12.5" height="12.5" fill="#F8CBAD" stroke="#ED7D31" stroke-width="1.6"/><rect x="346.8" y="1254.8" width="12.5" height="12.5" fill="#B4C7E7" stroke="#4472C4" stroke-width="1.6"/><rect x="346.8" y="1277.2" width="12.5" height="12.5" fill="#C5E0B4" stroke="#70AD47" stroke-width="1.6"/><rect x="346.8" y="1300.2" width="12.5" height="12.5" fill="#E0E0E0" stroke="#7F7F7F" stroke-width="1.6"/><rect x="346.8" y="1322.8" width="12.5" height="12.5" fill="#E0E0E0" stroke="#7F7F7F" stroke-width="1.6"/><rect x="346.8" y="1345.2" width="12.5" height="12.5" fill="#E0E0E0" stroke="#7F7F7F" stroke-width="1.6"/><path d="M340 1231h-4v127h4" fill="none" stroke="#555" stroke-width="1.2"/><path d="M366 1231h4v127h-4" fill="none" stroke="#555" stroke-width="1.2"/><path d="M340 1231h-4v59h4M340 1300h-4v58h4" fill="none" stroke="#555" stroke-width="1.2"/><rect x="637.5" y="1224" width="175" height="128" rx="10" fill="#E7E6E6" stroke="#1F3864" stroke-width="2"/><path d="M657.0 1236H791.0L786.0 1274H662.0Z" fill="#fff" stroke="#1F3864" stroke-width="1.8"/><path d="M662.0 1302.5H786.0L791.0 1340.5H657.0Z" fill="#fff" stroke="#1F3864" stroke-width="1.8"/><text x="724.0" y="1262" font-size="18.5"   text-anchor="middle" >Decoder</text><text x="724.0" y="1328.5" font-size="18.5"   text-anchor="middle" >Encoder</text><text x="0" y="0" font-size="15.5" text-anchor="middle" transform="translate(805.0 1288) rotate(-90)">Detector</text><line x1="629" y1="1290" x2="724.0" y2="1290" stroke="#333" stroke-width="1.2"/><line x1="724.0" y1="1290" x2="724.0" y2="1281" stroke="#333" stroke-width="1.2"/><path d="M724.0 1275L719.875 1282.15L728.125 1282.15Z" fill="#000"/><rect x="603.8" y="1208.8" width="12.5" height="12.5" fill="#FFE699" stroke="#FFC000" stroke-width="1.6"/><rect x="603.8" y="1232.2" width="12.5" height="12.5" fill="#F8CBAD" stroke="#ED7D31" stroke-width="1.6"/><rect x="603.8" y="1254.8" width="12.5" height="12.5" fill="#B4C7E7" stroke="#4472C4" stroke-width="1.6"/><rect x="603.8" y="1277.2" width="12.5" height="12.5" fill="#C5E0B4" stroke="#70AD47" stroke-width="1.6"/><rect x="603.8" y="1300.2" width="12.5" height="12.5" fill="#E0E0E0" stroke="#7F7F7F" stroke-width="1.6"/><rect x="603.8" y="1322.8" width="12.5" height="12.5" fill="#E0E0E0" stroke="#7F7F7F" stroke-width="1.6"/><rect x="603.8" y="1345.2" width="12.5" height="12.5" fill="#E0E0E0" stroke="#7F7F7F" stroke-width="1.6"/><path d="M597 1208h-4v82h4" fill="none" stroke="#555" stroke-width="1.2"/><path d="M623 1208h4v150h-4" fill="none" stroke="#555" stroke-width="1.2"/><rect x="888" y="1224" width="175" height="128" rx="10" fill="#E7E6E6" stroke="#1F3864" stroke-width="2"/><path d="M907.5 1236H1041.5L1036.5 1274H912.5Z" fill="#fff" stroke="#1F3864" stroke-width="1.8"/><path d="M912.5 1302.5H1036.5L1041.5 1340.5H907.5Z" fill="#fff" stroke="#1F3864" stroke-width="1.8"/><text x="974.5" y="1262" font-size="18.5"   text-anchor="middle" >Decoder</text><text x="974.5" y="1328.5" font-size="18.5"   text-anchor="middle" >Encoder</text><text x="0" y="0" font-size="15.5" text-anchor="middle" transform="translate(1055.5 1288) rotate(-90)">Detector</text><line x1="880.3" y1="1290" x2="974.5" y2="1290" stroke="#333" stroke-width="1.2"/><line x1="974.5" y1="1290" x2="974.5" y2="1281" stroke="#333" stroke-width="1.2"/><path d="M974.5 1275L970.375 1282.15L978.625 1282.15Z" fill="#000"/><rect x="855.0" y="1208.8" width="12.5" height="12.5" fill="#FFE699" stroke="#FFC000" stroke-width="1.6"/><rect x="855.0" y="1232.2" width="12.5" height="12.5" fill="#F8CBAD" stroke="#ED7D31" stroke-width="1.6"/><rect x="855.0" y="1254.8" width="12.5" height="12.5" fill="#B4C7E7" stroke="#4472C4" stroke-width="1.6"/><rect x="855.0" y="1277.2" width="12.5" height="12.5" fill="#C5E0B4" stroke="#70AD47" stroke-width="1.6"/><rect x="855.0" y="1300.2" width="12.5" height="12.5" fill="#E0E0E0" stroke="#7F7F7F" stroke-width="1.6"/><rect x="855.0" y="1322.8" width="12.5" height="12.5" fill="#E0E0E0" stroke="#7F7F7F" stroke-width="1.6"/><rect x="855.0" y="1345.2" width="12.5" height="12.5" fill="#E0E0E0" stroke="#7F7F7F" stroke-width="1.6"/><path d="M848.3 1208h-4v82h4" fill="none" stroke="#555" stroke-width="1.2"/><path d="M874.3 1208h4v150h-4" fill="none" stroke="#555" stroke-width="1.2"/><line x1="218" y1="1238.5" x2="278" y2="1238.5" stroke="#000" stroke-width="1.2" stroke-dasharray="5 3"/><path d="M286 1238.5L278.85 1234.375L278.85 1242.625Z" fill="#000"/><line x1="218" y1="1261" x2="278" y2="1261" stroke="#000" stroke-width="1.2" stroke-dasharray="5 3"/><path d="M286 1261L278.85 1256.875L278.85 1265.125Z" fill="#000"/><line x1="218" y1="1283.5" x2="278" y2="1283.5" stroke="#000" stroke-width="1.2" stroke-dasharray="5 3"/><path d="M286 1283.5L278.85 1279.375L278.85 1287.625Z" fill="#000"/><text font-size="15.5" font-weight="bold" text-anchor="middle" transform="translate(307 1261) rotate(-90)"><tspan x="0" y="0">Track</tspan><tspan x="0" y="18">Queries</tspan></text><text font-size="15.5" font-weight="bold" text-anchor="middle" transform="translate(307 1329) rotate(-90)"><tspan x="0" y="0">Detect</tspan><tspan x="0" y="18">Queries</tspan></text><rect x="1110.2" y="1208.8" width="12.5" height="12.5" fill="#FFE699" stroke="#FFC000" stroke-width="1.6"/><line x1="1124" y1="1215" x2="1180" y2="1215" stroke="#000" stroke-width="1.2" stroke-dasharray="5 3"/><path d="M1188 1215L1180.85 1210.875L1180.85 1219.125Z" fill="#000"/><rect x="1110.2" y="1232.2" width="12.5" height="12.5" fill="#F8CBAD" stroke="#ED7D31" stroke-width="1.6"/><line x1="1124" y1="1238.5" x2="1180" y2="1238.5" stroke="#000" stroke-width="1.2" stroke-dasharray="5 3"/><path d="M1188 1238.5L1180.85 1234.375L1180.85 1242.625Z" fill="#000"/><rect x="1110.2" y="1254.8" width="12.5" height="12.5" fill="#B4C7E7" stroke="#4472C4" stroke-width="1.6"/><line x1="1124" y1="1261" x2="1180" y2="1261" stroke="#000" stroke-width="1.2" stroke-dasharray="5 3"/><path d="M1188 1261L1180.85 1256.875L1180.85 1265.125Z" fill="#000"/><rect x="1110.2" y="1277.2" width="12.5" height="12.5" fill="#C5E0B4" stroke="#70AD47" stroke-width="1.6"/><line x1="1124" y1="1283.5" x2="1180" y2="1283.5" stroke="#000" stroke-width="1.2" stroke-dasharray="5 3"/><path d="M1188 1283.5L1180.85 1279.375L1180.85 1287.625Z" fill="#000"/><path d="M1105 1208h-4v82h4" fill="none" stroke="#555" stroke-width="1.2"/><rect x="387.5" y="1373" width="174" height="104" fill="url(#frbg)"/><rect x="397.5" y="1434" width="164" height="5" fill="#0A0C14" opacity="0.8"/><rect x="432.5" y="1390" width="31" height="68" fill="#B8A86A" fill-opacity="0.62" stroke="#FFC000" stroke-width="2"/><ellipse cx="448.0" cy="1406" rx="6.82" ry="6" fill="#E8E0D0" opacity="0.35"/><rect x="458.0" y="1395.4" width="18" height="56" fill="#D8B898" fill-opacity="0.62" stroke="#ED7D31" stroke-width="2"/><ellipse cx="467.0" cy="1411.4" rx="3.96" ry="6" fill="#E8E0D0" opacity="0.35"/><rect x="465.7" y="1386.4" width="25.6" height="81" fill="#9098B0" fill-opacity="0.62" stroke="#4472C4" stroke-width="2"/><ellipse cx="478.5" cy="1402.4" rx="5.632000000000001" ry="6" fill="#E8E0D0" opacity="0.35"/><rect x="487.5" y="1389.7" width="22.4" height="75.7" fill="#7E9478" fill-opacity="0.62" stroke="#70AD47" stroke-width="2"/><ellipse cx="498.7" cy="1405.7" rx="4.928" ry="6" fill="#E8E0D0" opacity="0.35"/><rect x="637.5" y="1373" width="174" height="104" fill="url(#frbg)"/><rect x="647.5" y="1434" width="164" height="5" fill="#0A0C14" opacity="0.8"/><rect x="685.0" y="1390.5" width="31" height="73" fill="#B8A86A" fill-opacity="0.62" stroke="#FFC000" stroke-width="2"/><ellipse cx="700.5" cy="1406.5" rx="6.82" ry="6" fill="#E8E0D0" opacity="0.35"/><rect x="716.0" y="1385" width="22" height="78" fill="#7E9478" fill-opacity="0.62" stroke="#70AD47" stroke-width="2"/><ellipse cx="727.0" cy="1401" rx="4.84" ry="6" fill="#E8E0D0" opacity="0.35"/><rect x="730.0" y="1387.5" width="33" height="82" fill="#9098B0" fill-opacity="0.62" stroke="#4472C4" stroke-width="2"/><ellipse cx="746.5" cy="1403.5" rx="7.26" ry="6" fill="#E8E0D0" opacity="0.35"/><rect x="888" y="1373" width="174" height="104" fill="url(#frbg)"/><rect x="898" y="1434" width="164" height="5" fill="#0A0C14" opacity="0.8"/><rect x="912.4" y="1387.5" width="29" height="76" fill="#B8A86A" fill-opacity="0.62" stroke="#FFC000" stroke-width="2"/><ellipse cx="926.9" cy="1403.5" rx="6.38" ry="6" fill="#E8E0D0" opacity="0.35"/><rect x="941" y="1385" width="31.6" height="82" fill="#9098B0" fill-opacity="0.62" stroke="#4472C4" stroke-width="2"/><ellipse cx="956.8" cy="1401" rx="6.952" ry="6" fill="#E8E0D0" opacity="0.35"/><rect x="970.5" y="1389" width="25.5" height="68" fill="#D8B898" fill-opacity="0.62" stroke="#ED7D31" stroke-width="2"/><ellipse cx="983.25" cy="1405" rx="5.61" ry="6" fill="#E8E0D0" opacity="0.35"/><rect x="1001" y="1386" width="34" height="83" fill="#7E9478" fill-opacity="0.62" stroke="#70AD47" stroke-width="2"/><ellipse cx="1018.0" cy="1402" rx="7.48" ry="6" fill="#E8E0D0" opacity="0.35"/><circle cx="318" cy="1427" r="1.8" fill="#000"/><circle cx="326" cy="1427" r="1.8" fill="#000"/><circle cx="334" cy="1427" r="1.8" fill="#000"/><circle cx="1116" cy="1429" r="1.8" fill="#000"/><circle cx="1124" cy="1429" r="1.8" fill="#000"/><circle cx="1132" cy="1429" r="1.8" fill="#000"/><rect x="138" y="1290" width="144" height="198" fill="#fff" stroke="#1F3864" stroke-width="2"/><text x="151" y="1306.5" font-size="14.5" font-weight="bold"  text-anchor="start" >Legend</text><circle cx="157.5" cy="1325.5" r="8.5" fill="#fff" stroke="#FF0000" stroke-width="1.6"/><text x="171.5" y="1330" font-size="14"   text-anchor="start" >Samba Unit</text><path d="M147 1345.5h2M152 1345.5h2M157 1345.5h11" stroke="#FF0000" stroke-width="1.5"/><text x="171.5" y="1349.5" font-size="14"   text-anchor="start" >Synchronization</text><rect x="148.5" y="1359.5" width="13" height="13" fill="#D9D9D9" stroke="#7F7F7F" stroke-width="1.6"/><text x="171.5" y="1370.5" font-size="14"   text-anchor="start" >Detect Query</text><rect x="148.5" y="1385.5" width="13" height="13" fill="#FFE699" stroke="#FFC000" stroke-width="1.6"/><text x="171.5" y="1395.5" font-size="14"   text-anchor="start" >Track Query</text><rect x="148.5" y="1407.5" width="13" height="13" fill="#fff" stroke="#FFC000" stroke-width="1.6"/><text x="171.5" y="1418.5" font-size="14"   text-anchor="start" >Track Memory</text><rect x="148.75" y="1432.75" width="12.5" height="12.5" fill="#FFC000" stroke="#FFC000" stroke-width="1.6"/><path d="M150 1444L160 1434" stroke="#fff" stroke-width="4"/><path d="M150 1436L152 1434M158 1444L160 1442" stroke="#fff" stroke-width="1.5"/><text x="171.5" y="1443.5" font-size="14"   text-anchor="start" >Empty Memory</text><path d="M151.5 1464.5l7 7M158.5 1464.5l-7 7" stroke="#1F3864" stroke-width="4.4"/><path d="M151.5 1464.5l7 7M158.5 1464.5l-7 7" stroke="#FF0000" stroke-width="2"/><text x="171.5" y="1461" font-size="14"   text-anchor="start" >Undetected /</text><text x="171.5" y="1478" font-size="14"   text-anchor="start" >Occluded</text><line x1="138" y1="1491" x2="1258" y2="1491" stroke="#000" stroke-width="2"/><path d="M1266 1491L1258.2 1486.5L1258.2 1495.5Z" fill="#000"/><text x="160" y="1513.5" font-size="15.5"   text-anchor="start" >Input Video Stream</text><text x="1243" y="1508" font-size="15"  font-style="italic" text-anchor="start" >t</text></svg>
<div class="a cap" style="left:428px;top:1518px;font-size:26px;line-height:32px">Tracking-by-propagation with SambaMOTR</div>
<div class="a" id="goal" style="left:167px;top:1573px;width:1100px;font-size:33.5px;line-height:36.7px;letter-spacing:0.53px">
<div><b style="color:#548235">Goal.</b>&nbsp;&nbsp; We aim to solve the limitations of previous end-to-end multiple</div>
<div>object tracking methods by:</div>
<div style="position:relative"><span style="position:absolute;left:5px">•</span><span style="padding-left:44px">modeling <u>long-range dependencies</u></span></div>
<div style="position:relative"><span style="position:absolute;left:5px">•</span><span style="padding-left:44px">modeling <u>interdependencies in joint object motion</u> (objects move</span></div>
<div style="padding-left:44px">together)</div>
<div style="position:relative"><span style="position:absolute;left:5px">•</span><span style="padding-left:44px">estimating <u>object trajectories under occlusions</u></span></div>
<div style="position:relative"><span style="position:absolute;left:5px">•</span><span style="padding-left:44px">learning from <u>longer videos</u></span></div>
</div>
<!-- /P2CONTENT -->
<!-- ===== PANEL 3 ===== -->
<div class="panel" style="left:1321px;top:220px;width:2429px;height:785px">
  <div class="ph" style="height:59px;font-size:39px;line-height:66px;letter-spacing:-0.41px">3. Samba: Synchronized Selective State-Space Models</div>
</div>

<!-- P3CONTENT -->
<div class="a" id="p3txt" style="left:1365px;top:302px;font-size:34px;line-height:41px;letter-spacing:0.15px">
<div><b style="color:#2F5597">Method.</b> We introduce SambaMOTR, the first end-to-end tracker leveraging long-range sequence models:</div>
<div style="position:relative;padding-left:43px"><span style="position:absolute;left:0px;top:0px;font-size:61px;line-height:41px">•</span>We use our novel set-of-sequences model <b>Samba</b> (Synchronized Mamba [3]) as query propagation module</div>
<div style="position:relative;padding-left:43px"><span style="position:absolute;left:0px;top:0px;font-size:61px;line-height:41px">•</span>We mask uncertain observations from the state update (<b>MaskObs</b>)</div>
<div style="position:relative;padding-left:43px"><span style="position:absolute;left:0px;top:0px;font-size:61px;line-height:41px">•</span>We train on longer sequences by backpropagating the gradient only over the last K frames (<b>Longer</b>)</div>
</div>
<svg style="left:1330px;top:480px" width="1850" height="520" viewBox="1330 480 1850 520" font-family="Liberation Sans, sans-serif"><text x="1831.5" y="529" font-size="20.5" font-weight="bold" text-anchor="middle" fill="#000" >Samba (Set-of-sequences Model)</text><rect x="1379.5" y="558" width="886" height="321" rx="14" fill="#FBE5D6" stroke="#4A6290" stroke-width="1.6"/><rect x="1400.5" y="592.5" width="213.5" height="277.5" rx="9" fill="#fff" stroke="#333" stroke-width="2" stroke-dasharray="6 4"/><rect x="1410" y="621.5" width="194" height="235.5" rx="11" fill="#F2F2F2" stroke="#2F4A7A" stroke-width="1.5"/><text x="1537" y="583" font-size="17" font-weight="bold" text-anchor="middle" fill="#000" >Samba Unit 0</text><text x="1550.5" y="639" font-size="14.5" font-weight="bold" text-anchor="middle" fill="#7F7F7F" >Samba Block</text><path d="M1577 606.5a6.5 6.5 0 1 1 -3 -5.5" fill="none" stroke="#000" stroke-width="1.6"/><path d="M1578.5 598l-1.5 6.5l-5.5 -2.5z" fill="#000"/><text x="1589" y="614" font-size="17" font-style="italic" text-anchor="middle" fill="#000" font-family="Liberation Serif" >N</text><line x1="1461.6" y1="632.8" x2="1461.6" y2="543" stroke="#000" stroke-width="1.2"/><path d="M1461.6 537.5L1458.3999999999999 543.1L1464.8 543.1Z" fill="#000"/><text x="1475.5" y="551" font-size="12" text-anchor="start" fill="#000" >sequence 0</text><path d="M1429.3 632.8H1493.5L1498.2 653.4H1425Z" fill="#E2F0D9" stroke="#333" stroke-width="1.4"/><line x1="1461.6" y1="684" x2="1461.6" y2="699.6" stroke="#000" stroke-width="1.2"/><path d="M1461.6 684L1458.8 688.9L1464.3999999999999 688.9Z" fill="#000"/><line x1="1461.6" y1="669" x2="1461.6" y2="660" stroke="#000" stroke-width="1.2"/><path d="M1461.6 654L1458.8 658.9L1464.3999999999999 658.9Z" fill="#000"/><circle cx="1461.6" cy="676.6" r="7" fill="#FFF2CC" stroke="#2F4A7A" stroke-width="1.3"/><path d="M1456.6999999999998 671.7l9.8 9.8M1466.5 671.7l-9.8 9.8" stroke="#333" stroke-width="1"/><line x1="1550.5" y1="676.6" x2="1475.6" y2="676.6" stroke="#777" stroke-width="1.1"/><path d="M1469.1 676.6L1474.0 673.8000000000001L1474.0 679.4Z" fill="#000"/><line x1="1550.5" y1="676.6" x2="1550.5" y2="748.5" stroke="#777" stroke-width="1.1"/><rect x="1435.5" y="700.5" width="52" height="33" rx="6" fill="#F8E3E3" stroke="#E06666" stroke-width="2.4"/><text x="1461.6" y="714.5" font-size="12.5" text-anchor="middle" fill="#000" >Sync</text><text x="1461.6" y="728.5" font-size="12.5" text-anchor="middle" fill="#000" >SSM</text><line x1="1461.6" y1="748.5" x2="1461.6" y2="741" stroke="#000" stroke-width="1.2"/><path d="M1461.6 735.5L1458.8 740.4L1464.3999999999999 740.4Z" fill="#000"/><circle cx="1461.6" cy="755.7" r="7" fill="#FFF2CC" stroke="#2F4A7A" stroke-width="1.3"/><text x="1461.6" y="759.5" font-size="10.5" font-style="italic" text-anchor="middle" fill="#000" font-family="Liberation Serif" >σ</text><circle cx="1550.5" cy="755.7" r="7" fill="#FFF2CC" stroke="#2F4A7A" stroke-width="1.3"/><text x="1550.5" y="759.5" font-size="10.5" font-style="italic" text-anchor="middle" fill="#000" font-family="Liberation Serif" >σ</text><line x1="1461.6" y1="762.7" x2="1461.6" y2="771.8" stroke="#000" stroke-width="1.2"/><line x1="1550.5" y1="762.7" x2="1550.5" y2="815.5" stroke="#333" stroke-width="1.1"/><rect x="1434.9" y="772.3" width="53.2" height="28.3" fill="#DAE3F3" stroke="#2F4A7A" stroke-width="1.3"/><text x="1461.6" y="791" font-size="12.5" text-anchor="middle" fill="#000" >Conv</text><line x1="1461.6" y1="815.5" x2="1461.6" y2="806" stroke="#000" stroke-width="1.2"/><path d="M1461.6 801.5L1458.8 806.4L1464.3999999999999 806.4Z" fill="#000"/><path d="M1424.3 815.5H1498L1493 835.7H1429Z" fill="#E2F0D9" stroke="#333" stroke-width="1.4"/><path d="M1514 815.5H1587L1582 835.7H1519Z" fill="#E2F0D9" stroke="#333" stroke-width="1.4"/><line x1="1461.6" y1="892" x2="1461.6" y2="842" stroke="#000" stroke-width="1.2"/><path d="M1461.6 836.5L1458.8 841.4L1464.3999999999999 841.4Z" fill="#000"/><line x1="1461.6" y1="850" x2="1550.5" y2="850" stroke="#333" stroke-width="1.1"/><line x1="1550.5" y1="850" x2="1550.5" y2="842" stroke="#333" stroke-width="1.1"/><path d="M1550.5 836.5L1547.7 841.4L1553.3 841.4Z" fill="#000"/><rect x="1649.6" y="592.5" width="213.5" height="277.5" rx="9" fill="#fff" stroke="#333" stroke-width="2" stroke-dasharray="6 4"/><rect x="1659.1" y="621.5" width="194" height="235.5" rx="11" fill="#F2F2F2" stroke="#2F4A7A" stroke-width="1.5"/><text x="1786.1" y="583" font-size="17" font-weight="bold" text-anchor="middle" fill="#000" >Samba Unit 1</text><text x="1799.6" y="639" font-size="14.5" font-weight="bold" text-anchor="middle" fill="#7F7F7F" >Samba Block</text><path d="M1826.1 606.5a6.5 6.5 0 1 1 -3 -5.5" fill="none" stroke="#000" stroke-width="1.6"/><path d="M1827.6 598l-1.5 6.5l-5.5 -2.5z" fill="#000"/><text x="1838.1" y="614" font-size="17" font-style="italic" text-anchor="middle" fill="#000" font-family="Liberation Serif" >N</text><line x1="1710.6999999999998" y1="632.8" x2="1710.6999999999998" y2="543" stroke="#000" stroke-width="1.2"/><path d="M1710.6999999999998 537.5L1707.4999999999998 543.1L1713.8999999999999 543.1Z" fill="#000"/><text x="1724.6" y="551" font-size="12" text-anchor="start" fill="#000" >sequence 1</text><path d="M1678.3999999999999 632.8H1742.6L1747.3 653.4H1674.1Z" fill="#E2F0D9" stroke="#333" stroke-width="1.4"/><line x1="1710.6999999999998" y1="684" x2="1710.6999999999998" y2="699.6" stroke="#000" stroke-width="1.2"/><path d="M1710.6999999999998 684L1707.8999999999999 688.9L1713.4999999999998 688.9Z" fill="#000"/><line x1="1710.6999999999998" y1="669" x2="1710.6999999999998" y2="660" stroke="#000" stroke-width="1.2"/><path d="M1710.6999999999998 654L1707.8999999999999 658.9L1713.4999999999998 658.9Z" fill="#000"/><circle cx="1710.6999999999998" cy="676.6" r="7" fill="#FFF2CC" stroke="#2F4A7A" stroke-width="1.3"/><path d="M1705.7999999999997 671.7l9.8 9.8M1715.6 671.7l-9.8 9.8" stroke="#333" stroke-width="1"/><line x1="1799.6" y1="676.6" x2="1724.6999999999998" y2="676.6" stroke="#777" stroke-width="1.1"/><path d="M1718.1999999999998 676.6L1723.1 673.8000000000001L1723.1 679.4Z" fill="#000"/><line x1="1799.6" y1="676.6" x2="1799.6" y2="748.5" stroke="#777" stroke-width="1.1"/><rect x="1684.6" y="700.5" width="52" height="33" rx="6" fill="#F8E3E3" stroke="#E06666" stroke-width="2.4"/><text x="1710.6999999999998" y="714.5" font-size="12.5" text-anchor="middle" fill="#000" >Sync</text><text x="1710.6999999999998" y="728.5" font-size="12.5" text-anchor="middle" fill="#000" >SSM</text><line x1="1710.6999999999998" y1="748.5" x2="1710.6999999999998" y2="741" stroke="#000" stroke-width="1.2"/><path d="M1710.6999999999998 735.5L1707.8999999999999 740.4L1713.4999999999998 740.4Z" fill="#000"/><circle cx="1710.6999999999998" cy="755.7" r="7" fill="#FFF2CC" stroke="#2F4A7A" stroke-width="1.3"/><text x="1710.6999999999998" y="759.5" font-size="10.5" font-style="italic" text-anchor="middle" fill="#000" font-family="Liberation Serif" >σ</text><circle cx="1799.6" cy="755.7" r="7" fill="#FFF2CC" stroke="#2F4A7A" stroke-width="1.3"/><text x="1799.6" y="759.5" font-size="10.5" font-style="italic" text-anchor="middle" fill="#000" font-family="Liberation Serif" >σ</text><line x1="1710.6999999999998" y1="762.7" x2="1710.6999999999998" y2="771.8" stroke="#000" stroke-width="1.2"/><line x1="1799.6" y1="762.7" x2="1799.6" y2="815.5" stroke="#333" stroke-width="1.1"/><rect x="1684.0" y="772.3" width="53.2" height="28.3" fill="#DAE3F3" stroke="#2F4A7A" stroke-width="1.3"/><text x="1710.6999999999998" y="791" font-size="12.5" text-anchor="middle" fill="#000" >Conv</text><line x1="1710.6999999999998" y1="815.5" x2="1710.6999999999998" y2="806" stroke="#000" stroke-width="1.2"/><path d="M1710.6999999999998 801.5L1707.8999999999999 806.4L1713.4999999999998 806.4Z" fill="#000"/><path d="M1673.3999999999999 815.5H1747.1L1742.1 835.7H1678.1Z" fill="#E2F0D9" stroke="#333" stroke-width="1.4"/><path d="M1763.1 815.5H1836.1L1831.1 835.7H1768.1Z" fill="#E2F0D9" stroke="#333" stroke-width="1.4"/><line x1="1710.6999999999998" y1="892" x2="1710.6999999999998" y2="842" stroke="#000" stroke-width="1.2"/><path d="M1710.6999999999998 836.5L1707.8999999999999 841.4L1713.4999999999998 841.4Z" fill="#000"/><line x1="1710.6999999999998" y1="850" x2="1799.6" y2="850" stroke="#333" stroke-width="1.1"/><line x1="1799.6" y1="850" x2="1799.6" y2="842" stroke="#333" stroke-width="1.1"/><path d="M1799.6 836.5L1796.8 841.4L1802.3999999999999 841.4Z" fill="#000"/><rect x="2033.4" y="592.5" width="213.5" height="277.5" rx="9" fill="#fff" stroke="#333" stroke-width="2" stroke-dasharray="6 4"/><rect x="2042.9" y="621.5" width="194" height="235.5" rx="11" fill="#F2F2F2" stroke="#2F4A7A" stroke-width="1.5"/><text x="2169.9" y="583" font-size="17" font-weight="bold" text-anchor="middle" fill="#000" >Samba Unit M</text><text x="2183.4" y="639" font-size="14.5" font-weight="bold" text-anchor="middle" fill="#7F7F7F" >Samba Block</text><path d="M2209.9 606.5a6.5 6.5 0 1 1 -3 -5.5" fill="none" stroke="#000" stroke-width="1.6"/><path d="M2211.4 598l-1.5 6.5l-5.5 -2.5z" fill="#000"/><text x="2221.9" y="614" font-size="17" font-style="italic" text-anchor="middle" fill="#000" font-family="Liberation Serif" >N</text><line x1="2094.5" y1="632.8" x2="2094.5" y2="543" stroke="#000" stroke-width="1.2"/><path d="M2094.5 537.5L2091.3 543.1L2097.7 543.1Z" fill="#000"/><text x="2108.4" y="551" font-size="12" text-anchor="start" fill="#000" >sequence M</text><path d="M2062.2 632.8H2126.4L2131.1 653.4H2057.9Z" fill="#E2F0D9" stroke="#333" stroke-width="1.4"/><line x1="2094.5" y1="684" x2="2094.5" y2="699.6" stroke="#000" stroke-width="1.2"/><path d="M2094.5 684L2091.7 688.9L2097.3 688.9Z" fill="#000"/><line x1="2094.5" y1="669" x2="2094.5" y2="660" stroke="#000" stroke-width="1.2"/><path d="M2094.5 654L2091.7 658.9L2097.3 658.9Z" fill="#000"/><circle cx="2094.5" cy="676.6" r="7" fill="#FFF2CC" stroke="#2F4A7A" stroke-width="1.3"/><path d="M2089.6 671.7l9.8 9.8M2099.4 671.7l-9.8 9.8" stroke="#333" stroke-width="1"/><line x1="2183.4" y1="676.6" x2="2108.5" y2="676.6" stroke="#777" stroke-width="1.1"/><path d="M2102.0 676.6L2106.9 673.8000000000001L2106.9 679.4Z" fill="#000"/><line x1="2183.4" y1="676.6" x2="2183.4" y2="748.5" stroke="#777" stroke-width="1.1"/><rect x="2068.4" y="700.5" width="52" height="33" rx="6" fill="#F8E3E3" stroke="#E06666" stroke-width="2.4"/><text x="2094.5" y="714.5" font-size="12.5" text-anchor="middle" fill="#000" >Sync</text><text x="2094.5" y="728.5" font-size="12.5" text-anchor="middle" fill="#000" >SSM</text><line x1="2094.5" y1="748.5" x2="2094.5" y2="741" stroke="#000" stroke-width="1.2"/><path d="M2094.5 735.5L2091.7 740.4L2097.3 740.4Z" fill="#000"/><circle cx="2094.5" cy="755.7" r="7" fill="#FFF2CC" stroke="#2F4A7A" stroke-width="1.3"/><text x="2094.5" y="759.5" font-size="10.5" font-style="italic" text-anchor="middle" fill="#000" font-family="Liberation Serif" >σ</text><circle cx="2183.4" cy="755.7" r="7" fill="#FFF2CC" stroke="#2F4A7A" stroke-width="1.3"/><text x="2183.4" y="759.5" font-size="10.5" font-style="italic" text-anchor="middle" fill="#000" font-family="Liberation Serif" >σ</text><line x1="2094.5" y1="762.7" x2="2094.5" y2="771.8" stroke="#000" stroke-width="1.2"/><line x1="2183.4" y1="762.7" x2="2183.4" y2="815.5" stroke="#333" stroke-width="1.1"/><rect x="2067.8" y="772.3" width="53.2" height="28.3" fill="#DAE3F3" stroke="#2F4A7A" stroke-width="1.3"/><text x="2094.5" y="791" font-size="12.5" text-anchor="middle" fill="#000" >Conv</text><line x1="2094.5" y1="815.5" x2="2094.5" y2="806" stroke="#000" stroke-width="1.2"/><path d="M2094.5 801.5L2091.7 806.4L2097.3 806.4Z" fill="#000"/><path d="M2057.2 815.5H2130.9L2125.9 835.7H2061.9Z" fill="#E2F0D9" stroke="#333" stroke-width="1.4"/><path d="M2146.9 815.5H2219.9L2214.9 835.7H2151.9Z" fill="#E2F0D9" stroke="#333" stroke-width="1.4"/><line x1="2094.5" y1="892" x2="2094.5" y2="842" stroke="#000" stroke-width="1.2"/><path d="M2094.5 836.5L2091.7 841.4L2097.3 841.4Z" fill="#000"/><line x1="2094.5" y1="850" x2="2183.4" y2="850" stroke="#333" stroke-width="1.1"/><line x1="2183.4" y1="850" x2="2183.4" y2="842" stroke="#333" stroke-width="1.1"/><path d="M2183.4 836.5L2180.6 841.4L2186.2000000000003 841.4Z" fill="#000"/><path d="M1488.6 717.6H1684.6M1736.6 717.6H2068.4" stroke="#E06666" stroke-width="1.4" stroke-dasharray="9 4 2 4" fill="none"/><text x="1947.7" y="705" font-size="13.5" font-weight="bold" text-anchor="middle" fill="#C00000" >Memory Synchronization</text><rect x="1937" y="726.5" width="21" height="21" rx="4" fill="#5B9BD5"/><path d="M1942 735a6 6 0 0 1 10.5 -2.5M1953 739a6 6 0 0 1 -10.5 2.5" stroke="#fff" stroke-width="1.8" fill="none"/><text x="1631" y="801" font-size="10.5" text-anchor="middle" fill="#000" >shared</text><line x1="1617" y1="812" x2="1645" y2="812" stroke="#000" stroke-width="1.1" stroke-dasharray="3 2"/><path d="M1614 812L1618.48 809.44L1618.48 814.56Z" fill="#000"/><path d="M1648 812L1643.52 809.44L1643.52 814.56Z" fill="#000"/><text x="1888" y="801" font-size="10.5" text-anchor="middle" fill="#000" >shared</text><line x1="1874" y1="812" x2="1902" y2="812" stroke="#000" stroke-width="1.1" stroke-dasharray="3 2"/><path d="M1871 812L1875.48 809.44L1875.48 814.56Z" fill="#000"/><path d="M1905 812L1900.52 809.44L1900.52 814.56Z" fill="#000"/><text x="2007.4" y="801" font-size="10.5" text-anchor="middle" fill="#000" >shared</text><line x1="1993.4" y1="812" x2="2021.4" y2="812" stroke="#000" stroke-width="1.1" stroke-dasharray="3 2"/><path d="M1990.4 812L1994.88 809.44L1994.88 814.56Z" fill="#000"/><path d="M2024.4 812L2019.92 809.44L2019.92 814.56Z" fill="#000"/><circle cx="1938" cy="806" r="1.3" fill="#000"/><circle cx="1946" cy="806" r="1.3" fill="#000"/><circle cx="1954" cy="806" r="1.3" fill="#000"/><rect x="1389.5" y="898" width="867" height="36.5" rx="8" fill="#F2F2F2" stroke="#2F4A7A" stroke-width="1.4"/><rect x="1413.5" y="905" width="23" height="22.5" fill="#E2F0D9" stroke="#2F4A7A" stroke-width="1.3"/><text x="1457.5" y="912.6" font-size="12.5" text-anchor="start" fill="#000" >Linear</text><text x="1457.5" y="926.7" font-size="12.5" text-anchor="start" fill="#000" >Projection</text><rect x="1603.5" y="905" width="23" height="22.5" fill="#DAE3F3" stroke="#2F4A7A" stroke-width="1.3"/><text x="1648.7" y="912.6" font-size="12.5" text-anchor="start" fill="#000" >Sequence</text><text x="1648.7" y="926.7" font-size="12.5" text-anchor="start" fill="#000" >Transformation</text><rect x="1823" y="905" width="23" height="22.5" fill="#F8E3E3" stroke="#2F4A7A" stroke-width="1.3"/><text x="1866" y="912.6" font-size="12.5" text-anchor="start" fill="#000" >Sequence</text><text x="1866" y="926.7" font-size="12.5" text-anchor="start" fill="#000" >Synchronization</text><circle cx="2052" cy="917" r="7.5" fill="#FFF2CC" stroke="#2F4A7A" stroke-width="1.3"/><text x="2052" y="921" font-size="10.5" font-style="italic" text-anchor="middle" fill="#000" font-family="Liberation Serif" >σ</text><text x="2083.5" y="913.5" font-size="12.5" text-anchor="start" fill="#000" >Non-linearity</text><text x="2083.5" y="928" font-size="12.5" text-anchor="start" fill="#000" >(activation or multiplication)</text><line x1="2311" y1="500" x2="2311" y2="981" stroke="#222" stroke-width="1.4"/><line x1="3185" y1="500" x2="3185" y2="981" stroke="#222" stroke-width="1.4"/><line x1="2903" y1="534" x2="2903" y2="937" stroke="#BBB" stroke-width="1.4"/><text x="2569" y="608" font-size="23.5" font-weight="bold" text-anchor="middle" fill="#000" >Synchronized SSM</text><rect x="2438" y="620.5" width="396" height="205" rx="20" fill="#F9E3E3" stroke="#D46A6A" stroke-width="1.8"/><text font-size="14" font-weight="bold" text-anchor="middle" transform="translate(2363 741) rotate(-90)">Past Memory</text><path d="M2375 686q-4 0 -4 4v106q0 4 4 4" fill="none" stroke="#999" stroke-width="1"/><line x1="2384" y1="707.9" x2="2408" y2="707.9" stroke="#555" stroke-width="1" stroke-dasharray="3 2"/><path d="M2414 707.9L2409.8 705.5L2409.8 710.3Z" fill="#000"/><rect x="2415.6" y="702.0" width="11.8" height="11.8" fill="#fff" stroke="#ED7D31" stroke-width="1.2"/><text x="2384" y="697.9" font-size="14" font-family="Liberation Serif" text-anchor="start"><tspan font-style="italic">h</tspan><tspan font-size="8.7" dy="-5.9">0</tspan><tspan font-size="8.7" dx="-4.9" dy="8.7" font-style="italic">t−1</tspan></text><path d="M2385 686.98q2 -2 4 0t4 0" stroke="#000" stroke-width="0.9" fill="none"/><line x1="2384" y1="740" x2="2408" y2="740" stroke="#555" stroke-width="1" stroke-dasharray="3 2"/><path d="M2414 740L2409.8 737.6L2409.8 742.4Z" fill="#000"/><rect x="2415.6" y="734.1" width="11.8" height="11.8" fill="#fff" stroke="#4472C4" stroke-width="1.2"/><text x="2384" y="730" font-size="14" font-family="Liberation Serif" text-anchor="start"><tspan font-style="italic">h</tspan><tspan font-size="8.7" dy="-5.9">1</tspan><tspan font-size="8.7" dx="-4.9" dy="8.7" font-style="italic">t−1</tspan></text><path d="M2385 719.08q2 -2 4 0t4 0" stroke="#000" stroke-width="0.9" fill="none"/><line x1="2384" y1="784" x2="2408" y2="784" stroke="#555" stroke-width="1" stroke-dasharray="3 2"/><path d="M2414 784L2409.8 781.6L2409.8 786.4Z" fill="#000"/><rect x="2415.6" y="778.1" width="11.8" height="11.8" fill="#fff" stroke="#70AD47" stroke-width="1.2"/><text x="2384" y="774" font-size="14" font-family="Liberation Serif" text-anchor="start"><tspan font-style="italic">h</tspan><tspan font-size="8.7" dy="-5.9">k</tspan><tspan font-size="8.7" dx="-4.9" dy="8.7" font-style="italic">t−1</tspan></text><path d="M2385 763.08q2 -2 4 0t4 0" stroke="#000" stroke-width="0.9" fill="none"/><circle cx="2421" cy="758.9" r="0.91" fill="#000"/><circle cx="2421" cy="762.8" r="0.91" fill="#000"/><circle cx="2421" cy="766.7" r="0.91" fill="#000"/><rect x="2467.2999999999997" y="838.6" width="11.8" height="11.8" fill="#F8CBAD" stroke="#ED7D31" stroke-width="1.2"/><text x="2463.7" y="871" font-size="15" font-family="Liberation Serif" text-anchor="start"><tspan font-style="italic">x</tspan><tspan font-size="9.3" dy="-6.3">0</tspan><tspan font-size="9.3" dx="-5.2" dy="9.3" font-style="italic">t</tspan></text><rect x="2510.1" y="838.6" width="11.8" height="11.8" fill="#B4C7E7" stroke="#4472C4" stroke-width="1.2"/><text x="2506.5" y="871" font-size="15" font-family="Liberation Serif" text-anchor="start"><tspan font-style="italic">x</tspan><tspan font-size="9.3" dy="-6.3">1</tspan><tspan font-size="9.3" dx="-5.2" dy="9.3" font-style="italic">t</tspan></text><rect x="2568.6" y="838.6" width="11.8" height="11.8" fill="#C5E0B4" stroke="#70AD47" stroke-width="1.2"/><text x="2565" y="871" font-size="15" font-family="Liberation Serif" text-anchor="start"><tspan font-style="italic">x</tspan><tspan font-size="9.3" dy="-6.3">k</tspan><tspan font-size="9.3" dx="-5.2" dy="9.3" font-style="italic">t</tspan></text><text x="2544" y="845" font-size="12" text-anchor="middle" fill="#000" >···</text><path d="M2466 876q0 4 4 4h108q4 0 4 -4" fill="none" stroke="#777" stroke-width="1"/><text x="2523.3" y="896.5" font-size="14" font-weight="bold" text-anchor="middle" fill="#000" >Observations</text><rect x="2454" y="696.5" width="38.5" height="23" rx="5" fill="#fff" stroke="#FF0000" stroke-width="2"/><text x="2473.2" y="712.0" font-size="11.5" text-anchor="middle" fill="#000" >LTMU</text><line x1="2473.2" y1="838" x2="2473.2" y2="725.5" stroke="#333" stroke-width="1"/><path d="M2473.2 720.5L2470.7999999999997 724.7L2475.6 724.7Z" fill="#000"/><rect x="2496.8" y="728.9" width="38.5" height="23" rx="5" fill="#fff" stroke="#FF0000" stroke-width="2"/><text x="2516.0" y="744.4" font-size="11.5" text-anchor="middle" fill="#000" >LTMU</text><line x1="2516.0" y1="838" x2="2516.0" y2="757.9" stroke="#333" stroke-width="1"/><path d="M2516.0 752.9L2513.6 757.1L2518.4 757.1Z" fill="#000"/><rect x="2555" y="773" width="38.5" height="23" rx="5" fill="#fff" stroke="#FF0000" stroke-width="2"/><text x="2574.2" y="788.5" font-size="11.5" text-anchor="middle" fill="#000" >LTMU</text><line x1="2574.5" y1="838" x2="2574.5" y2="802" stroke="#333" stroke-width="1"/><path d="M2574.5 797L2572.1 801.2L2576.9 801.2Z" fill="#000"/><line x1="2428" y1="707.9" x2="2448" y2="707.9" stroke="#444" stroke-width="1.1"/><path d="M2454 707.9L2449.8 705.5L2449.8 710.3Z" fill="#000"/><line x1="2493" y1="707.9" x2="2608" y2="707.9" stroke="#444" stroke-width="1.1"/><path d="M2613.5 707.9L2609.3 705.5L2609.3 710.3Z" fill="#000"/><rect x="2614.1" y="702.0" width="11.8" height="11.8" fill="#fff" stroke="#ED7D31" stroke-width="1.2"/><text x="2630" y="697.9" font-size="15" font-family="Liberation Serif" text-anchor="start"><tspan font-style="italic">h</tspan><tspan font-size="9.3" dy="-6.3">0</tspan><tspan font-size="9.3" dx="-5.2" dy="9.3" font-style="italic">t</tspan></text><line x1="2626.5" y1="707.9" x2="2654" y2="707.9" stroke="#444" stroke-width="1.1"/><line x1="2428" y1="740" x2="2490.8" y2="740" stroke="#444" stroke-width="1.6"/><path d="M2496.8 740L2492.6000000000004 737.6L2492.6000000000004 742.4Z" fill="#000"/><line x1="2535.8" y1="740" x2="2608" y2="740" stroke="#444" stroke-width="1.6"/><path d="M2613.5 740L2609.3 737.6L2609.3 742.4Z" fill="#000"/><rect x="2614.1" y="734.1" width="11.8" height="11.8" fill="#fff" stroke="#4472C4" stroke-width="1.2"/><text x="2630" y="730" font-size="15" font-family="Liberation Serif" text-anchor="start"><tspan font-style="italic">h</tspan><tspan font-size="9.3" dy="-6.3">1</tspan><tspan font-size="9.3" dx="-5.2" dy="9.3" font-style="italic">t</tspan></text><line x1="2626.5" y1="740" x2="2654" y2="740" stroke="#444" stroke-width="1.6"/><line x1="2428" y1="784" x2="2549" y2="784" stroke="#444" stroke-width="1.1"/><path d="M2555 784L2550.8 781.6L2550.8 786.4Z" fill="#000"/><line x1="2594" y1="784" x2="2608" y2="784" stroke="#444" stroke-width="1.1"/><path d="M2613.5 784L2609.3 781.6L2609.3 786.4Z" fill="#000"/><rect x="2614.1" y="778.1" width="11.8" height="11.8" fill="#fff" stroke="#70AD47" stroke-width="1.2"/><text x="2630" y="774" font-size="15" font-family="Liberation Serif" text-anchor="start"><tspan font-style="italic">h</tspan><tspan font-size="9.3" dy="-6.3">k</tspan><tspan font-size="9.3" dx="-5.2" dy="9.3" font-style="italic">t</tspan></text><line x1="2626.5" y1="784" x2="2654" y2="784" stroke="#444" stroke-width="1.1"/><circle cx="2619" cy="760.9" r="0.91" fill="#000"/><circle cx="2619" cy="764.8" r="0.91" fill="#000"/><circle cx="2619" cy="768.7" r="0.91" fill="#000"/><text x="2619.6" y="651.8" font-size="14" font-weight="bold" text-anchor="middle" fill="#000" >Updated</text><text x="2619.6" y="667.2" font-size="14" font-weight="bold" text-anchor="middle" fill="#000" >Memory</text><path d="M2593 681q0 -4 4 -4h46q4 0 4 4" fill="none" stroke="#777" stroke-width="1"/><rect x="2655" y="680" width="40.5" height="132.5" rx="9" fill="#fff" stroke="#00B050" stroke-width="2.2"/><text font-size="12.5" text-anchor="middle" transform="translate(2672 746) rotate(-90)"><tspan x="0" y="0">Memory</tspan><tspan x="0" y="15">Synchronization</tspan></text><line x1="2695.6" y1="707.9" x2="2704.4" y2="707.9" stroke="#444" stroke-width="1.1"/><path d="M2709.4 707.9L2705.2000000000003 705.5L2705.2000000000003 710.3Z" fill="#000"/><rect x="2710.0" y="702.0" width="11.8" height="11.8" fill="#fff" stroke="#ED7D31" stroke-width="1.2"/><line x1="2722.4" y1="707.9" x2="2842" y2="707.9" stroke="#444" stroke-width="1.1"/><path d="M2848 707.9L2843.8 705.5L2843.8 710.3Z" fill="#000"/><line x1="2715.9" y1="701.4" x2="2715.9" y2="670" stroke="#333" stroke-width="1"/><path d="M2715.9 665L2713.5 669.2L2718.3 669.2Z" fill="#000"/><rect x="2703.5" y="639.5" width="25.5" height="24" rx="5" fill="#fff" stroke="#00B0F0" stroke-width="2"/><text x="2716.3" y="655.5" font-size="11" text-anchor="middle" fill="#000" >OU</text><line x1="2715.9" y1="638.5" x2="2715.9" y2="616" stroke="#333" stroke-width="1"/><path d="M2715.9 610L2713.5 614.2L2718.3 614.2Z" fill="#000"/><rect x="2710.0" y="596.6" width="11.8" height="11.8" fill="#F8CBAD" stroke="#ED7D31" stroke-width="1.2"/><text x="2708.4" y="588" font-size="15" font-family="Liberation Serif" text-anchor="start"><tspan font-style="italic">y</tspan><tspan font-size="9.3" dy="-6.3">0</tspan><tspan font-size="9.3" dx="-5.2" dy="9.3" font-style="italic">t</tspan></text><line x1="2695.6" y1="740" x2="2738.8" y2="740" stroke="#444" stroke-width="1.6"/><path d="M2743.8 740L2739.6000000000004 737.6L2739.6000000000004 742.4Z" fill="#000"/><rect x="2744.4" y="734.1" width="11.8" height="11.8" fill="#fff" stroke="#4472C4" stroke-width="1.2"/><line x1="2756.8" y1="740" x2="2842" y2="740" stroke="#444" stroke-width="1.6"/><path d="M2848 740L2843.8 737.6L2843.8 742.4Z" fill="#000"/><line x1="2750.3" y1="733.5" x2="2750.3" y2="670" stroke="#333" stroke-width="1"/><path d="M2750.3 665L2747.9 669.2L2752.7000000000003 669.2Z" fill="#000"/><rect x="2737" y="639.5" width="25.5" height="24" rx="5" fill="#fff" stroke="#00B0F0" stroke-width="2"/><text x="2749.8" y="655.5" font-size="11" text-anchor="middle" fill="#000" >OU</text><line x1="2750.3" y1="638.5" x2="2750.3" y2="616" stroke="#333" stroke-width="1"/><path d="M2750.3 610L2747.9 614.2L2752.7000000000003 614.2Z" fill="#000"/><rect x="2744.4" y="596.6" width="11.8" height="11.8" fill="#B4C7E7" stroke="#4472C4" stroke-width="1.2"/><text x="2742.8" y="588" font-size="15" font-family="Liberation Serif" text-anchor="start"><tspan font-style="italic">y</tspan><tspan font-size="9.3" dy="-6.3">1</tspan><tspan font-size="9.3" dx="-5.2" dy="9.3" font-style="italic">t</tspan></text><line x1="2695.6" y1="784" x2="2789.3" y2="784" stroke="#444" stroke-width="1.1"/><path d="M2794.3 784L2790.1000000000004 781.6L2790.1000000000004 786.4Z" fill="#000"/><rect x="2794.9" y="778.1" width="11.8" height="11.8" fill="#fff" stroke="#70AD47" stroke-width="1.2"/><line x1="2807.3" y1="784" x2="2842" y2="784" stroke="#444" stroke-width="1.1"/><path d="M2848 784L2843.8 781.6L2843.8 786.4Z" fill="#000"/><line x1="2800.8" y1="777.5" x2="2800.8" y2="670" stroke="#333" stroke-width="1"/><path d="M2800.8 665L2798.4 669.2L2803.2000000000003 669.2Z" fill="#000"/><rect x="2788.5" y="639.5" width="25.5" height="24" rx="5" fill="#fff" stroke="#00B0F0" stroke-width="2"/><text x="2801.3" y="655.5" font-size="11" text-anchor="middle" fill="#000" >OU</text><line x1="2800.8" y1="638.5" x2="2800.8" y2="616" stroke="#333" stroke-width="1"/><path d="M2800.8 610L2798.4 614.2L2803.2000000000003 614.2Z" fill="#000"/><rect x="2794.9" y="596.6" width="11.8" height="11.8" fill="#C5E0B4" stroke="#70AD47" stroke-width="1.2"/><text x="2793.3" y="588" font-size="15" font-family="Liberation Serif" text-anchor="start"><tspan font-style="italic">y</tspan><tspan font-size="9.3" dy="-6.3">k</tspan><tspan font-size="9.3" dx="-5.2" dy="9.3" font-style="italic">t</tspan></text><text x="2723" y="699" font-size="15" font-family="Liberation Serif" text-anchor="start"><tspan font-style="italic">h</tspan><tspan font-size="9.3" dy="-6.3">0</tspan><tspan font-size="9.3" dx="-5.2" dy="9.3" font-style="italic">t</tspan></text><path d="M2724 687.3q2 -2 4 0t4 0" stroke="#000" stroke-width="0.9" fill="none"/><text x="2760" y="733" font-size="15" font-family="Liberation Serif" text-anchor="start"><tspan font-style="italic">h</tspan><tspan font-size="9.3" dy="-6.3">1</tspan><tspan font-size="9.3" dx="-5.2" dy="9.3" font-style="italic">t</tspan></text><path d="M2761 721.3q2 -2 4 0t4 0" stroke="#000" stroke-width="0.9" fill="none"/><text x="2812" y="777" font-size="15" font-family="Liberation Serif" text-anchor="start"><tspan font-style="italic">h</tspan><tspan font-size="9.3" dy="-6.3">k</tspan><tspan font-size="9.3" dx="-5.2" dy="9.3" font-style="italic">t</tspan></text><path d="M2813 765.3q2 -2 4 0t4 0" stroke="#000" stroke-width="0.9" fill="none"/><text x="2773" y="655" font-size="12" text-anchor="middle" fill="#000" >···</text><text x="2773" y="606" font-size="12" text-anchor="middle" fill="#000" >···</text><path d="M2702.5 573q0 -4 4 -4h107q4 0 4 4" fill="none" stroke="#777" stroke-width="1"/><text x="2759" y="560" font-size="14" font-weight="bold" text-anchor="middle" fill="#000" >Outputs</text><path d="M2851 686q4 0 4 4v106q0 4 -4 4" fill="none" stroke="#999" stroke-width="1"/><circle cx="2845" cy="758.9" r="0.91" fill="#000"/><circle cx="2845" cy="762.8" r="0.91" fill="#000"/><circle cx="2845" cy="766.7" r="0.91" fill="#000"/><text font-size="14" font-weight="bold" text-anchor="middle" transform="translate(2873 741) rotate(-90)"><tspan x="0" y="0">Synchronized</tspan><tspan x="0" y="16">Memory</tspan></text><rect x="2921.5" y="534" width="221" height="127" fill="#F2F2F2" stroke="#44546A" stroke-width="1.8"/><text x="3032" y="548.7" font-size="13" font-weight="bold" text-anchor="middle" fill="#000" >Long-Term Memory Update (LTMU)</text><rect x="2966.5" y="557.5" width="131" height="78" rx="7" fill="#fff" stroke="#FF0000" stroke-width="2.4"/><line x1="2928" y1="573.5" x2="2942" y2="573.5" stroke="#333" stroke-width="1" stroke-dasharray="3 2"/><path d="M2948 573.5L2943.8 571.1L2943.8 575.9Z" fill="#000"/><rect x="2949.1" y="567.6" width="11.8" height="11.8" fill="#fff" stroke="#ED7D31" stroke-width="1.2"/><line x1="2961.5" y1="573.5" x2="3070" y2="573.5" stroke="#000" stroke-width="1.1"/><rect x="3070.5" y="565" width="16" height="17" fill="#fff" stroke="#44546A" stroke-width="1.3"/><line x1="3086.5" y1="573.5" x2="3102" y2="573.5" stroke="#000" stroke-width="1.1"/><path d="M3106 573.5L3101.8 571.1L3101.8 575.9Z" fill="#000"/><rect x="3106.6" y="567.6" width="11.8" height="11.8" fill="#fff" stroke="#ED7D31" stroke-width="1.2"/><line x1="3119" y1="573.5" x2="3130" y2="573.5" stroke="#333" stroke-width="1" stroke-dasharray="3 2"/><path d="M3135 573.5L3130.8 571.1L3130.8 575.9Z" fill="#000"/><rect x="3008" y="591" width="16" height="17" fill="#fff" stroke="#44546A" stroke-width="1.3"/><rect x="3070.5" y="591" width="16" height="17" fill="#fff" stroke="#44546A" stroke-width="1.3"/><line x1="3016" y1="591" x2="3016" y2="573.5" stroke="#000" stroke-width="1"/><line x1="2982" y1="620" x2="2982" y2="599" stroke="#000" stroke-width="1"/><line x1="2982" y1="599" x2="3003" y2="599" stroke="#000" stroke-width="1"/><path d="M3008 599L3003.8 596.6L3003.8 601.4Z" fill="#000"/><line x1="3070" y1="599" x2="3030" y2="599" stroke="#999" stroke-width="1" stroke-dasharray="2 2"/><path d="M3025 599L3029.2 596.6L3029.2 601.4Z" fill="#999"/><text x="3047" y="596" font-size="9" text-anchor="middle" fill="#888" >Discretize</text><line x1="3078.5" y1="591" x2="3078.5" y2="586" stroke="#999" stroke-width="1"/><path d="M3078.5 582.5L3076.5 586.0L3080.5 586.0Z" fill="#999"/><path d="M2982 655V624H3078.5V612" stroke="#4472C4" stroke-width="1" fill="none"/><path d="M3016 624V612" stroke="#4472C4" stroke-width="1"/><path d="M3016 608L3013.6 612.2L3018.4 612.2Z" fill="#4472C4"/><path d="M3078.5 608L3076.1 612.2L3080.9 612.2Z" fill="#4472C4"/><text x="3032" y="632" font-size="10" text-anchor="middle" fill="#4472C4" >Selection</text><text x="2935" y="597" font-size="14" font-family="Liberation Serif" text-anchor="start"><tspan font-style="italic">h</tspan><tspan font-size="8.7" dy="-5.9">i</tspan><tspan font-size="8.7" dx="-4.9" dy="8.7" font-style="italic">t−1</tspan></text><path d="M2936 586.08q2 -2 4 0t4 0" stroke="#000" stroke-width="0.9" fill="none"/><text x="3110" y="597" font-size="14" font-family="Liberation Serif" text-anchor="start"><tspan font-style="italic">h</tspan><tspan font-size="8.7" dy="-5.9">i</tspan><tspan font-size="8.7" dx="-4.9" dy="8.7" font-style="italic">t</tspan></text><text x="2990" y="618" font-size="14" font-family="Liberation Serif" text-anchor="start"><tspan font-style="italic">B</tspan><tspan font-size="8.7" dy="-5.9">i</tspan><tspan font-size="8.7" dx="-4.9" dy="8.7" font-style="italic">t</tspan></text><text x="3053" y="618" font-size="14" font-family="Liberation Serif" text-anchor="start"><tspan font-style="italic">Δ</tspan><tspan font-size="8.7" dy="-5.9">i</tspan><tspan font-size="8.7" dx="-4.9" dy="8.7" font-style="italic">t</tspan></text><text x="3062" y="585" font-size="14" font-style="italic" text-anchor="middle" fill="#000" font-family="Liberation Serif" >A</text><rect x="2976.1" y="642.6" width="11.8" height="11.8" fill="#F8CBAD" stroke="#ED7D31" stroke-width="1.2"/><text x="2955" y="656" font-size="14" font-family="Liberation Serif" text-anchor="start"><tspan font-style="italic">x</tspan><tspan font-size="8.7" dy="-5.9">i</tspan><tspan font-size="8.7" dx="-4.9" dy="8.7" font-style="italic">t</tspan></text><rect x="2921.5" y="666.5" width="221" height="122" fill="#F2F2F2" stroke="#44546A" stroke-width="1.8"/><text x="3032" y="679.3" font-size="13" font-weight="bold" text-anchor="middle" fill="#000" >Memory Synchronization (MS)</text><rect x="2988.5" y="692" width="85" height="90" rx="8" fill="#fff" stroke="#00B050" stroke-width="2.4"/><rect x="2999" y="698" width="16" height="79" rx="5" fill="#fff" stroke="#44546A" stroke-width="1.2"/><text font-size="10" text-anchor="middle" transform="translate(3010.5 737.5) rotate(-90)">MHSA</text><rect x="3023" y="698" width="16" height="79" rx="5" fill="#fff" stroke="#44546A" stroke-width="1.2"/><text font-size="10" text-anchor="middle" transform="translate(3034.5 737.5) rotate(-90)">MLP</text><rect x="3046.5" y="698" width="16" height="79" rx="5" fill="#fff" stroke="#44546A" stroke-width="1.2"/><text font-size="10" text-anchor="middle" transform="translate(3058.0 737.5) rotate(-90)">LayerNorm</text><rect x="2968.6" y="703.1" width="11.8" height="11.8" fill="#fff" stroke="#ED7D31" stroke-width="1.2"/><line x1="2981" y1="709" x2="2988" y2="709" stroke="#777" stroke-width="1"/><text x="2946" y="714" font-size="13" font-family="Liberation Serif" text-anchor="start"><tspan font-style="italic">h</tspan><tspan font-size="8.1" dy="-5.5">0</tspan><tspan font-size="8.1" dx="-4.5" dy="8.1" font-style="italic">t</tspan></text><line x1="3073.5" y1="709" x2="3080" y2="709" stroke="#000" stroke-width="1"/><path d="M3084 709L3079.8 706.6L3079.8 711.4Z" fill="#000"/><rect x="3084.6" y="703.1" width="11.8" height="11.8" fill="#fff" stroke="#ED7D31" stroke-width="1.2"/><text x="3102" y="714" font-size="13" font-family="Liberation Serif" text-anchor="start"><tspan font-style="italic">h</tspan><tspan font-size="8.1" dy="-5.5">0</tspan><tspan font-size="8.1" dx="-4.5" dy="8.1" font-style="italic">t</tspan></text><path d="M3103 703.86q2 -2 4 0t4 0" stroke="#000" stroke-width="0.9" fill="none"/><rect x="2968.6" y="724.1" width="11.8" height="11.8" fill="#fff" stroke="#4472C4" stroke-width="1.2"/><line x1="2981" y1="730" x2="2988" y2="730" stroke="#777" stroke-width="1"/><text x="2946" y="735" font-size="13" font-family="Liberation Serif" text-anchor="start"><tspan font-style="italic">h</tspan><tspan font-size="8.1" dy="-5.5">1</tspan><tspan font-size="8.1" dx="-4.5" dy="8.1" font-style="italic">t</tspan></text><line x1="3073.5" y1="730" x2="3080" y2="730" stroke="#000" stroke-width="1"/><path d="M3084 730L3079.8 727.6L3079.8 732.4Z" fill="#000"/><rect x="3084.6" y="724.1" width="11.8" height="11.8" fill="#fff" stroke="#4472C4" stroke-width="1.2"/><text x="3102" y="735" font-size="13" font-family="Liberation Serif" text-anchor="start"><tspan font-style="italic">h</tspan><tspan font-size="8.1" dy="-5.5">1</tspan><tspan font-size="8.1" dx="-4.5" dy="8.1" font-style="italic">t</tspan></text><path d="M3103 724.86q2 -2 4 0t4 0" stroke="#000" stroke-width="0.9" fill="none"/><rect x="2968.6" y="760.1" width="11.8" height="11.8" fill="#fff" stroke="#70AD47" stroke-width="1.2"/><line x1="2981" y1="766" x2="2988" y2="766" stroke="#777" stroke-width="1"/><text x="2946" y="771" font-size="13" font-family="Liberation Serif" text-anchor="start"><tspan font-style="italic">h</tspan><tspan font-size="8.1" dy="-5.5">k</tspan><tspan font-size="8.1" dx="-4.5" dy="8.1" font-style="italic">t</tspan></text><line x1="3073.5" y1="766" x2="3080" y2="766" stroke="#000" stroke-width="1"/><path d="M3084 766L3079.8 763.6L3079.8 768.4Z" fill="#000"/><rect x="3084.6" y="760.1" width="11.8" height="11.8" fill="#fff" stroke="#70AD47" stroke-width="1.2"/><text x="3102" y="771" font-size="13" font-family="Liberation Serif" text-anchor="start"><tspan font-style="italic">h</tspan><tspan font-size="8.1" dy="-5.5">k</tspan><tspan font-size="8.1" dx="-4.5" dy="8.1" font-style="italic">t</tspan></text><path d="M3103 760.86q2 -2 4 0t4 0" stroke="#000" stroke-width="0.9" fill="none"/><circle cx="2974" cy="744.3" r="0.77" fill="#000"/><circle cx="2974" cy="747.6" r="0.77" fill="#000"/><circle cx="2974" cy="750.9" r="0.77" fill="#000"/><circle cx="3090" cy="744.3" r="0.77" fill="#000"/><circle cx="3090" cy="747.6" r="0.77" fill="#000"/><circle cx="3090" cy="750.9" r="0.77" fill="#000"/><path d="M3060 689a4 4 0 1 1 3 3" fill="none" stroke="#000" stroke-width="1"/><text x="3066" y="692" font-size="10" font-style="italic" text-anchor="start" fill="#000" font-family="Liberation Serif" >N</text><text x="3073" y="695" font-size="7" font-style="italic" text-anchor="start" fill="#000" font-family="Liberation Serif" >sync</text><rect x="2921.5" y="793" width="221" height="141" fill="#F2F2F2" stroke="#44546A" stroke-width="1.8"/><text x="3032" y="807.6" font-size="13" font-weight="bold" text-anchor="middle" fill="#000" >Output Update (OU)</text><rect x="2993.5" y="843" width="77" height="67.5" rx="8" fill="#fff" stroke="#00B0F0" stroke-width="2.4"/><rect x="3024.6" y="819.6" width="11.8" height="11.8" fill="#F8CBAD" stroke="#ED7D31" stroke-width="1.2"/><text x="3041" y="832" font-size="14" font-family="Liberation Serif" text-anchor="start"><tspan font-style="italic">y</tspan><tspan font-size="8.7" dy="-5.9">i</tspan><tspan font-size="8.7" dx="-4.9" dy="8.7" font-style="italic">t</tspan></text><line x1="3030.5" y1="854" x2="3030.5" y2="834" stroke="#999" stroke-width="1"/><path d="M3030.5 832.5L3028.5 836.0L3032.5 836.0Z" fill="#999"/><rect x="3022.5" y="855" width="16" height="17" fill="#fff" stroke="#44546A" stroke-width="1.3"/><text x="3045" y="868" font-size="14" font-family="Liberation Serif" text-anchor="start"><tspan font-style="italic">C</tspan><tspan font-size="8.7" dy="-5.9">i</tspan><tspan font-size="8.7" dx="-4.9" dy="8.7" font-style="italic">t</tspan></text><rect x="2971.6" y="859.6" width="11.8" height="11.8" fill="#fff" stroke="#ED7D31" stroke-width="1.2"/><text x="2970" y="850" font-size="14" font-family="Liberation Serif" text-anchor="start"><tspan font-style="italic">h</tspan><tspan font-size="8.7" dy="-5.9">i</tspan><tspan font-size="8.7" dx="-4.9" dy="8.7" font-style="italic">t</tspan></text><path d="M2971 839.08q2 -2 4 0t4 0" stroke="#000" stroke-width="0.9" fill="none"/><line x1="2984" y1="865.5" x2="3017" y2="865.5" stroke="#000" stroke-width="1"/><path d="M3022 865.5L3017.8 863.1L3017.8 867.9Z" fill="#000"/><rect x="3010" y="884" width="40" height="21" rx="6" fill="#fff" stroke="#44546A" stroke-width="1.2"/><text x="3030" y="898.5" font-size="10.5" text-anchor="middle" fill="#000" >MLP</text><text x="3057" y="898" font-size="14" font-style="italic" text-anchor="start" fill="#000" font-family="Liberation Serif" >s</text><text x="3063" y="901" font-size="9" font-style="italic" text-anchor="start" fill="#000" font-family="Liberation Serif" >C</text><line x1="3030.5" y1="884" x2="3030.5" y2="877" stroke="#999" stroke-width="1"/><path d="M3030.5 872.5L3028.5 876.0L3032.5 876.0Z" fill="#999"/><rect x="3024.6" y="920.6" width="11.8" height="11.8" fill="#F8CBAD" stroke="#ED7D31" stroke-width="1.2"/><text x="3042" y="932" font-size="14" font-family="Liberation Serif" text-anchor="start"><tspan font-style="italic">x</tspan><tspan font-size="8.7" dy="-5.9">i</tspan><tspan font-size="8.7" dx="-4.9" dy="8.7" font-style="italic">t</tspan></text><line x1="3030.5" y1="920" x2="3030.5" y2="910" stroke="#000" stroke-width="1"/><path d="M3030.5 906L3028.5 909.5L3032.5 909.5Z" fill="#000"/></svg>
<svg style="left:3240px;top:360px" width="460" height="580" viewBox="3240 360 460 580"><text x="3283.4" y="387.7" font-size="24" font-family="Liberation Sans" font-weight="bold" text-anchor="start" fill="#000" textLength="364.6" lengthAdjust="spacingAndGlyphs">Synchronized State-space Model</text><rect x="3278.7" y="411.3" width="375.2" height="40.6" fill="none" stroke="#E03030" stroke-width="1.6"/><rect x="3278.7" y="467.7" width="375.2" height="40.6" fill="none" stroke="#2EA860" stroke-width="1.6"/><rect x="3278.7" y="523.3" width="375.2" height="40.6" fill="none" stroke="#6E9EF0" stroke-width="1.6"/><text x="3305.5" y="437.9" font-size="19" font-family="Liberation Serif" text-anchor="start" fill="#000" textLength="64" lengthAdjust="spacingAndGlyphs">LTMU:</text><text x="3412" y="437.9" font-size="20" font-family="Liberation Serif" text-anchor="start" fill="#000" textLength="214" lengthAdjust="spacingAndGlyphs"><tspan font-style="italic">h</tspan><tspan font-size="13" dy="-9" font-style="italic">i</tspan><tspan font-size="13" dx="-5" dy="13" font-style="italic">t</tspan><tspan dy="-4">​</tspan> = <tspan font-weight="bold">Ā</tspan><tspan font-size="13" dy="-9" font-style="italic">i</tspan><tspan dy="9">​</tspan>(<tspan font-style="italic">t</tspan>)<tspan font-style="italic">h</tspan><tspan font-size="13" dy="-9" font-style="italic">i</tspan><tspan font-size="13" dx="-5" dy="13" font-style="italic">t−1</tspan><tspan dy="-4">​</tspan> + <tspan font-weight="bold">B̄</tspan><tspan font-size="13" dy="-9" font-style="italic">i</tspan><tspan dy="9">​</tspan>(<tspan font-style="italic">t</tspan>)<tspan font-style="italic">x</tspan><tspan font-size="13" dy="-9" font-style="italic">i</tspan><tspan font-size="13" dx="-5" dy="13" font-style="italic">t</tspan><tspan dy="-4">​</tspan></text><text x="3331.6" y="493.6" font-size="19" font-family="Liberation Serif" text-anchor="start" fill="#000" textLength="38" lengthAdjust="spacingAndGlyphs">MS:</text><text x="3412" y="493.6" font-size="20" font-family="Liberation Serif" text-anchor="start" fill="#000" textLength="122" lengthAdjust="spacingAndGlyphs"><tspan font-style="italic">h̃</tspan><tspan font-size="13" dy="-9" font-style="italic">i</tspan><tspan font-size="13" dx="-5" dy="13" font-style="italic">t</tspan><tspan dy="-4">​</tspan> = Γ<tspan font-style="italic"></tspan><tspan font-size="13" dx="0" dy="4" font-style="italic">i<tspan font-style="normal">ε</tspan>S</tspan><tspan dy="-4">​</tspan> (<tspan font-style="italic">h</tspan><tspan font-size="13" dy="-9" font-style="italic">i</tspan><tspan font-size="13" dx="-5" dy="13" font-style="italic">t</tspan><tspan dy="-4">​</tspan>)</text><text x="3332" y="549.4" font-size="19" font-family="Liberation Serif" text-anchor="start" fill="#000" textLength="39" lengthAdjust="spacingAndGlyphs">OU:</text><text x="3412" y="549.4" font-size="20" font-family="Liberation Serif" text-anchor="start" fill="#000" textLength="99" lengthAdjust="spacingAndGlyphs"><tspan font-style="italic">y</tspan><tspan font-size="13" dy="-9" font-style="italic">i</tspan><tspan font-size="13" dx="-5" dy="13" font-style="italic">t</tspan><tspan dy="-4">​</tspan> = <tspan font-weight="bold">C</tspan>(<tspan font-style="italic">t</tspan>)<tspan font-style="italic">h̃</tspan><tspan font-size="13" dy="-9" font-style="italic">i</tspan><tspan font-size="13" dx="-5" dy="13" font-style="italic">t</tspan><tspan dy="-4">​</tspan></text><rect x="3255" y="592.5" width="423" height="333" fill="none" stroke="#333" stroke-width="2"/><line x1="3255" y1="686.5" x2="3678" y2="686.5" stroke="#222" stroke-width="2.2"/><line x1="3255" y1="792" x2="3678" y2="792" stroke="#222" stroke-width="2.2"/><text x="3272" y="622.4" font-size="17.5" font-family="Liberation Sans" font-weight="bold" text-anchor="start" fill="#000">Notation</text><text x="3272" y="647.8" font-size="17" font-family="Liberation Sans" text-anchor="start" fill="#000"><tspan font-weight="bold">A</tspan>: system matrix</text><text x="3486.5" y="647.8" font-size="17" font-family="Liberation Sans" text-anchor="start" fill="#000"><tspan font-weight="bold">B</tspan>: control matrix</text><text x="3272" y="672" font-size="17" font-family="Liberation Sans" text-anchor="start" fill="#000"><tspan font-weight="bold">C</tspan>: output matrix</text><text x="3486.5" y="672" font-size="17" font-family="Liberation Sans" text-anchor="start" fill="#000"><tspan font-weight="bold">D</tspan>: feed-forward matrix</text><text x="3268.8" y="715.7" font-size="18" font-family="Liberation Sans" font-weight="bold" text-anchor="start" fill="#000" textLength="334.6" lengthAdjust="spacingAndGlyphs">Discretization (S4 [Gu et al, ICLR 2022])</text><text x="3271" y="745.4" font-size="17" font-family="Liberation Serif" text-anchor="start" fill="#000" textLength="166.4" lengthAdjust="spacingAndGlyphs"><tspan font-weight="bold">Ā</tspan>(<tspan font-style="italic">t</tspan>)  =  exp(<tspan font-weight="bold">Δ</tspan>(<tspan font-style="italic">t</tspan>)<tspan font-weight="bold">A</tspan>(<tspan font-style="italic">t</tspan>))</text><text x="3271" y="776.8" font-size="17" font-family="Liberation Serif" text-anchor="start" fill="#000" textLength="391.8" lengthAdjust="spacingAndGlyphs"><tspan font-weight="bold">B̄</tspan>(<tspan font-style="italic">t</tspan>)  =  (<tspan font-weight="bold">Δ</tspan>(<tspan font-style="italic">t</tspan>)<tspan font-weight="bold">A</tspan>(<tspan font-style="italic">t</tspan>))<tspan font-size="11" dy="-7">−1</tspan><tspan dy="7">(exp(</tspan><tspan font-weight="bold">Δ</tspan>(<tspan font-style="italic">t</tspan>)<tspan font-weight="bold">A</tspan>(<tspan font-style="italic">t</tspan>)) − <tspan font-weight="bold">I</tspan>) · <tspan font-weight="bold">Δ</tspan>(<tspan font-style="italic">t</tspan>)<tspan font-weight="bold">B</tspan>(<tspan font-style="italic">t</tspan>)</text><text x="3273.8" y="822.8" font-size="18" font-family="Liberation Sans" font-weight="bold" text-anchor="start" fill="#000" textLength="356.5" lengthAdjust="spacingAndGlyphs">Selectivity (Mamba [Gu et al, COLM 2024])</text><text x="3271" y="850.5" font-size="19" font-family="Liberation Serif" text-anchor="start" fill="#000" textLength="215" lengthAdjust="spacingAndGlyphs"><tspan font-weight="bold">Δ</tspan>(<tspan font-style="italic">t</tspan>) = <tspan font-style="italic">τ</tspan><tspan font-size="12" dy="4">Δ</tspan><tspan dy="-4">(</tspan><tspan font-weight="bold">Δ</tspan> + <tspan font-style="italic">s</tspan><tspan font-size="12" dy="4">Δ</tspan><tspan dy="-4">(</tspan><tspan font-style="italic">x</tspan>(<tspan font-style="italic">t</tspan>)))</text><text x="3511.7" y="850.5" font-size="19" font-family="Liberation Serif" text-anchor="start" fill="#000" textLength="150.8" lengthAdjust="spacingAndGlyphs"><tspan font-style="italic">τ</tspan><tspan font-size="12" dy="4">Δ</tspan><tspan dy="-4"> = </tspan><tspan font-family="Liberation Mono">softplus</tspan></text><text x="3271" y="881.3" font-size="19" font-family="Liberation Serif" text-anchor="start" fill="#000" textLength="135" lengthAdjust="spacingAndGlyphs"><tspan font-weight="bold">B</tspan>(<tspan font-style="italic">t</tspan>) = <tspan font-style="italic">s</tspan><tspan font-size="12" dy="4" font-style="italic">B</tspan><tspan dy="-4">(</tspan><tspan font-style="italic">x</tspan>(<tspan font-style="italic">t</tspan>))</text><text x="3511.7" y="881.3" font-size="19" font-family="Liberation Serif" text-anchor="start" fill="#000" textLength="127.3" lengthAdjust="spacingAndGlyphs"><tspan font-weight="bold">C</tspan>(<tspan font-style="italic">t</tspan>) = <tspan font-style="italic">s</tspan><tspan font-size="12" dy="4" font-style="italic">C</tspan><tspan dy="-4">(</tspan><tspan font-style="italic">x</tspan>(<tspan font-style="italic">t</tspan>))</text><text x="3295.6" y="914" font-size="19" font-family="Liberation Serif" text-anchor="start" fill="#000" textLength="343" lengthAdjust="spacingAndGlyphs"><tspan font-style="italic">s</tspan><tspan font-size="12" dy="4">Δ</tspan><tspan dy="-4">, </tspan><tspan font-style="italic">s</tspan><tspan font-size="12" dy="4" font-style="italic">B</tspan><tspan dy="-4">, </tspan><tspan font-style="italic">s</tspan><tspan font-size="12" dy="4" font-style="italic">C</tspan><tspan dy="-4"> are learnable linear mappings</tspan></text></svg>
<div class="a cap" style="left:1524px;top:952px;font-size:25.5px;line-height:32px;letter-spacing:0.8px">Illustration of a Samba set-of-sequences model</div>
<div class="a cap" style="left:2415px;top:952px;font-size:25.5px;line-height:32px;letter-spacing:0.8px">Illustration of Samba’s synchronized state-space model</div>
<div class="a cap" style="left:3321px;top:954px;font-size:25.5px;line-height:32px;letter-spacing:0.86px">Mathematical Definition</div>
<!-- /P3CONTENT -->
<!-- ===== PANEL 4 ===== -->
<div class="panel" style="left:1321px;top:1031px;width:1161px;height:832px">
  <div class="ph" style="height:59px;font-size:39px;line-height:61px;letter-spacing:-0.42px">4. Ablation on Method Components</div>
</div>

<!-- P4CONTENT -->
<div class="a" id="p4txt" style="left:1364px;top:1108px;width:1073px;font-size:34px;line-height:40.5px;letter-spacing:0.35px">
<div style="text-align:justify;text-align-last:justify">We introduce a long-range query propagation module based on state-</div>
<div style="text-align:justify;text-align-last:justify">space models (<b>SSM</b>), we mask uncertain queries during the state</div>
<div style="text-align:justify;text-align-last:justify">update (<b>MaskObs</b>), we synchronize memory representations across</div>
<div style="letter-spacing:0">tracklets (<b>Sync</b>), and we learn from longer sequences (<b>Longer</b>).</div>
</div>
<svg style="left:1370px;top:1290px;text-decoration-skip-ink:none" width="1070" height="530" viewBox="1370 1290 1070 530" font-family="Liberation Sans, sans-serif"><line x1="1410.7" y1="1299.1" x2="2392.3" y2="1299.1" stroke="#333" stroke-width="2"/><line x1="1410.7" y1="1412.3" x2="2392.3" y2="1412.3" stroke="#333" stroke-width="2"/><line x1="1410.7" y1="1524.9" x2="2392.3" y2="1524.9" stroke="#333" stroke-width="2"/><text font-family="Liberation Serif" font-size="22.5" text-anchor="middle" transform="translate(1446 1354) rotate(-90)">MaskObs</text><text font-family="Liberation Serif" font-size="22.5" text-anchor="middle" transform="translate(1445 1468.5) rotate(-90)">Longer</text><circle cx="1481" cy="1487.3" r="1.3" fill="#000"/><circle cx="1487.5" cy="1487.3" r="1.3" fill="#000"/><circle cx="1494" cy="1487.3" r="1.3" fill="#000"/><line x1="1512.2" y1="1487.3" x2="1534" y2="1487.3" stroke="#000" stroke-width="1.1"/><path d="M1538 1487.3L1533.5 1484.75L1533.5 1489.85Z" fill="#000"/><text x="1553" y="1491.3" font-family="Liberation Serif" font-size="13.5" font-style="italic" fill="#000">h<tspan font-size="9.7" dy="3">t−3</tspan></text><line x1="1587" y1="1487.3" x2="1608" y2="1487.3" stroke="#000" stroke-width="1.1"/><path d="M1612 1487.3L1607.5 1484.75L1607.5 1489.85Z" fill="#000"/><rect x="1623.2" y="1472.3" width="46.200000000000045" height="30" rx="5" fill="#E6E6E6" stroke="#4A6290" stroke-width="1.5"/><text x="1646.3000000000002" y="1491.3" font-size="11" text-anchor="middle">SSM</text><line x1="1679" y1="1487.3" x2="1700.6" y2="1487.3" stroke="#000" stroke-width="1.1"/><path d="M1704.6 1487.3L1700.1 1484.75L1700.1 1489.85Z" fill="#000"/><text x="1716" y="1491.3" font-family="Liberation Serif" font-size="13.5" font-style="italic" fill="#000">h<tspan font-size="9.7" dy="3">t−2</tspan></text><line x1="1745.6" y1="1487.3" x2="1767" y2="1487.3" stroke="#000" stroke-width="1.1"/><path d="M1771 1487.3L1766.5 1484.75L1766.5 1489.85Z" fill="#000"/><rect x="1782" y="1472.3" width="45.40000000000009" height="30" rx="5" fill="#E6E6E6" stroke="#4A6290" stroke-width="1.5"/><text x="1804.7" y="1491.3" font-size="11" text-anchor="middle">SSM</text><line x1="1837" y1="1487.3" x2="1858" y2="1487.3" stroke="#000" stroke-width="1.1"/><path d="M1862 1487.3L1857.5 1484.75L1857.5 1489.85Z" fill="#000"/><text x="1873.6" y="1491.3" font-family="Liberation Serif" font-size="13.5" font-style="italic" fill="#000">h<tspan font-size="9.7" dy="3">t−1</tspan></text><text x="1873.6" y="1381.2" font-family="Liberation Serif" font-size="13.5" font-style="italic" fill="#000">h<tspan font-size="9.7" dy="3">t−1</tspan></text><line x1="1902.6" y1="1377.2" x2="1924" y2="1377.2" stroke="#000" stroke-width="1.1"/><path d="M1928 1377.2L1923.5 1374.65L1923.5 1379.75Z" fill="#000"/><rect x="1939.1" y="1362.2" width="45.30000000000018" height="30" rx="5" fill="#EEF5E8" stroke="#8FD27A" stroke-width="1.5"/><text x="1961.75" y="1381.2" font-size="11" text-anchor="middle">SSM</text><line x1="1993.6" y1="1377.2" x2="2014.6" y2="1377.2" stroke="#000" stroke-width="1.1"/><path d="M2018.6 1377.2L2014.1 1374.65L2014.1 1379.75Z" fill="#000"/><text x="2028" y="1381.2" font-family="Liberation Serif" font-size="13.5" font-style="italic" fill="#000">h<tspan font-size="9.7" dy="3">t</tspan></text><line x1="2052.8" y1="1377.2" x2="2074.5" y2="1377.2" stroke="#000" stroke-width="1.1"/><path d="M2078.5 1377.2L2074.0 1374.65L2074.0 1379.75Z" fill="#000"/><rect x="2091.3" y="1362.2" width="45.69999999999982" height="30" rx="5" fill="#EEF5E8" stroke="#8FD27A" stroke-width="1.5"/><text x="2114.15" y="1381.2" font-size="11" text-anchor="middle">SSM</text><line x1="2148" y1="1377.2" x2="2169" y2="1377.2" stroke="#000" stroke-width="1.1"/><path d="M2173 1377.2L2168.5 1374.65L2168.5 1379.75Z" fill="#000"/><text x="2184.6" y="1381.2" font-family="Liberation Serif" font-size="13.5" font-style="italic" fill="#000">h<tspan font-size="9.7" dy="3">t+1</tspan></text><line x1="2215.4" y1="1377.2" x2="2236.7" y2="1377.2" stroke="#000" stroke-width="1.1"/><path d="M2240.7 1377.2L2236.2 1374.65L2236.2 1379.75Z" fill="#000"/><rect x="2250.8" y="1362.2" width="45.0" height="30" rx="5" fill="#EEF5E8" stroke="#8FD27A" stroke-width="1.5"/><text x="2273.3" y="1381.2" font-size="11" text-anchor="middle">SSM</text><line x1="2307" y1="1377.2" x2="2328" y2="1377.2" stroke="#000" stroke-width="1.1"/><path d="M2332 1377.2L2327.5 1374.65L2327.5 1379.75Z" fill="#000"/><text x="2339" y="1381.2" font-family="Liberation Serif" font-size="13.5" font-style="italic" fill="#000">h<tspan font-size="9.7" dy="3">t+2</tspan></text><text x="1952.7" y="1329.2" font-family="Liberation Serif" font-size="13.5" font-style="italic" fill="#000">x<tspan font-size="9.7" dy="3">t</tspan></text><line x1="1961.7" y1="1335.2" x2="1961.7" y2="1356.2" stroke="#000" stroke-width="1.1"/><path d="M1961.7 1361.2L1959.15 1356.7L1964.25 1356.7Z" fill="#000"/><text x="2264.3" y="1329.2" font-family="Liberation Serif" font-size="13.5" font-style="italic" fill="#000">x<tspan font-size="9.7" dy="3">t+2</tspan></text><line x1="2273.3" y1="1335.2" x2="2273.3" y2="1356.2" stroke="#000" stroke-width="1.1"/><path d="M2273.3 1361.2L2270.75 1356.7L2275.8500000000004 1356.7Z" fill="#000"/><line x1="1902.6" y1="1487.3" x2="1924" y2="1487.3" stroke="#000" stroke-width="1.1"/><path d="M1928 1487.3L1923.5 1484.75L1923.5 1489.85Z" fill="#000"/><rect x="1939.1" y="1472.3" width="45.30000000000018" height="30" rx="5" fill="#EEF5E8" stroke="#8FD27A" stroke-width="1.5"/><text x="1961.75" y="1491.3" font-size="11" text-anchor="middle">SSM</text><line x1="1993.6" y1="1487.3" x2="2014.6" y2="1487.3" stroke="#000" stroke-width="1.1"/><path d="M2018.6 1487.3L2014.1 1484.75L2014.1 1489.85Z" fill="#000"/><text x="2028" y="1491.3" font-family="Liberation Serif" font-size="13.5" font-style="italic" fill="#000">h<tspan font-size="9.7" dy="3">t</tspan></text><line x1="2052.8" y1="1487.3" x2="2074.5" y2="1487.3" stroke="#000" stroke-width="1.1"/><path d="M2078.5 1487.3L2074.0 1484.75L2074.0 1489.85Z" fill="#000"/><rect x="2091.3" y="1472.3" width="45.69999999999982" height="30" rx="5" fill="#EEF5E8" stroke="#8FD27A" stroke-width="1.5"/><text x="2114.15" y="1491.3" font-size="11" text-anchor="middle">SSM</text><line x1="2148" y1="1487.3" x2="2169" y2="1487.3" stroke="#000" stroke-width="1.1"/><path d="M2173 1487.3L2168.5 1484.75L2168.5 1489.85Z" fill="#000"/><text x="2184.6" y="1491.3" font-family="Liberation Serif" font-size="13.5" font-style="italic" fill="#000">h<tspan font-size="9.7" dy="3">t+1</tspan></text><line x1="2215.4" y1="1487.3" x2="2236.7" y2="1487.3" stroke="#000" stroke-width="1.1"/><path d="M2240.7 1487.3L2236.2 1484.75L2236.2 1489.85Z" fill="#000"/><rect x="2250.8" y="1472.3" width="45.0" height="30" rx="5" fill="#EEF5E8" stroke="#8FD27A" stroke-width="1.5"/><text x="2273.3" y="1491.3" font-size="11" text-anchor="middle">SSM</text><line x1="2307" y1="1487.3" x2="2328" y2="1487.3" stroke="#000" stroke-width="1.1"/><path d="M2332 1487.3L2327.5 1484.75L2327.5 1489.85Z" fill="#000"/><text x="2339" y="1491.3" font-family="Liberation Serif" font-size="13.5" font-style="italic" fill="#000">h<tspan font-size="9.7" dy="3">t+2</tspan></text><text x="1952.7" y="1439.3" font-family="Liberation Serif" font-size="13.5" font-style="italic" fill="#000">x<tspan font-size="9.7" dy="3">t</tspan></text><line x1="1961.7" y1="1445.3" x2="1961.7" y2="1466.3" stroke="#000" stroke-width="1.1"/><path d="M1961.7 1471.3L1959.15 1466.8L1964.25 1466.8Z" fill="#000"/><text x="2264.3" y="1439.3" font-family="Liberation Serif" font-size="13.5" font-style="italic" fill="#000">x<tspan font-size="9.7" dy="3">t+2</tspan></text><line x1="2273.3" y1="1445.3" x2="2273.3" y2="1466.3" stroke="#000" stroke-width="1.1"/><path d="M2273.3 1471.3L2270.75 1466.8L2275.8500000000004 1466.8Z" fill="#000"/><text x="2105.2" y="1439.3" font-family="Liberation Serif" font-size="13.5" font-style="italic" fill="#000">x<tspan font-size="9.7" dy="3">t+1</tspan></text><line x1="2114.2" y1="1445.3" x2="2114.2" y2="1466.3" stroke="#000" stroke-width="1.1"/><path d="M2114.2 1471.3L2111.6499999999996 1466.8L2116.75 1466.8Z" fill="#000"/><text x="1637.3" y="1439.3" font-family="Liberation Serif" font-size="13.5" font-style="italic" fill="#000">x<tspan font-size="9.7" dy="3">t−2</tspan></text><line x1="1646.3" y1="1445.3" x2="1646.3" y2="1466.3" stroke="#000" stroke-width="1.1"/><path d="M1646.3 1471.3L1643.75 1466.8L1648.85 1466.8Z" fill="#000"/><text x="1795.7" y="1439.3" font-family="Liberation Serif" font-size="13.5" font-style="italic" fill="#000">x<tspan font-size="9.7" dy="3">t−1</tspan></text><line x1="1804.7" y1="1445.3" x2="1804.7" y2="1466.3" stroke="#000" stroke-width="1.1"/><path d="M1804.7 1471.3L1802.15 1466.8L1807.25 1466.8Z" fill="#000"/><rect x="2095" y="1313" width="39" height="20" fill="#E0E0E0" stroke="#444" stroke-width="1.5"/><text x="2104" y="1327.5" font-family="Liberation Serif" font-size="13.5" font-style="italic" fill="#999">x<tspan font-size="9.7" dy="3">t+1</tspan></text><line x1="1379" y1="1604.5" x2="2418.5" y2="1604.5" stroke="#000" stroke-width="2.2"/><line x1="1379" y1="1640.5" x2="2418.5" y2="1640.5" stroke="#000" stroke-width="1.6"/><line x1="1379" y1="1745" x2="2418.5" y2="1745" stroke="#000" stroke-width="1.6"/><line x1="1379" y1="1804.5" x2="2418.5" y2="1804.5" stroke="#000" stroke-width="2.2"/><line x1="1719.2" y1="1613" x2="1719.2" y2="1636" stroke="#000" stroke-width="1.2"/><line x1="1719.2" y1="1650" x2="1719.2" y2="1740" stroke="#000" stroke-width="1.2"/><line x1="1719.2" y1="1754" x2="1719.2" y2="1798" stroke="#000" stroke-width="1.2"/><line x1="2043.5" y1="1613" x2="2043.5" y2="1636" stroke="#000" stroke-width="1.2"/><line x1="2043.5" y1="1650" x2="2043.5" y2="1740" stroke="#000" stroke-width="1.2"/><line x1="2043.5" y1="1754" x2="2043.5" y2="1798" stroke="#000" stroke-width="1.2"/><text x="1392.2" y="1628.5" font-family="Liberation Serif" font-size="21.5" text-anchor="start" fill="#000" >Method</text><text x="1753.4" y="1628.5" font-family="Liberation Serif" font-size="21.5" text-anchor="middle" fill="#000" >SSM</text><text x="1838.9" y="1628.5" font-family="Liberation Serif" font-size="21.5" text-anchor="middle" fill="#000" >MaskObs</text><text x="1924.3" y="1628.5" font-family="Liberation Serif" font-size="21.5" text-anchor="middle" fill="#000" >Sync</text><text x="2000.5" y="1628.5" font-family="Liberation Serif" font-size="21.5" text-anchor="middle" fill="#000" >Longer</text><text x="2083.7" y="1628.5" font-family="Liberation Serif" font-size="21.5" text-anchor="middle" fill="#000" >HOTA</text><text x="2159.9" y="1628.5" font-family="Liberation Serif" font-size="21.5" text-anchor="middle" fill="#000" >AssA</text><text x="2230" y="1628.5" font-family="Liberation Serif" font-size="21.5" text-anchor="middle" fill="#000" >DetA</text><text x="2299.4" y="1628.5" font-family="Liberation Serif" font-size="21.5" text-anchor="middle" fill="#000" >IDF1</text><text x="2376" y="1628.5" font-family="Liberation Serif" font-size="21.5" text-anchor="middle" fill="#000" >MOTA</text><text x="1392.2" y="1697.8" font-family="Liberation Serif" font-size="21.5" text-anchor="start" fill="#000" >SambaMOTR (<tspan font-weight="bold">Ours</tspan>)</text><text x="1705" y="1665.5" font-family="Liberation Serif" font-size="21.5" text-anchor="end" fill="#000" >(a)</text><path d="M1746.4 1659.0L1751.4 1665.5L1760.9 1650.5" fill="none" stroke="#000" stroke-width="1.9" stroke-linejoin="round"/><text x="1838.9" y="1665.5" font-family="Liberation Serif" font-size="21.5" text-anchor="middle" fill="#000" >-</text><text x="1924.3" y="1665.5" font-family="Liberation Serif" font-size="21.5" text-anchor="middle" fill="#000" >-</text><text x="2000.5" y="1665.5" font-family="Liberation Serif" font-size="21.5" text-anchor="middle" fill="#000" >-</text><text x="2083.7" y="1665.5" font-family="Liberation Serif" font-size="21.5" text-anchor="middle" fill="#000" >63.5</text><text x="2159.9" y="1665.5" font-family="Liberation Serif" font-size="21.5" text-anchor="middle" fill="#000" >53.8</text><text x="2230" y="1665.5" font-family="Liberation Serif" font-size="21.5" text-anchor="middle" fill="#000" >75.1</text><text x="2299.4" y="1665.5" font-family="Liberation Serif" font-size="21.5" text-anchor="middle" fill="#000" >67.0</text><text x="2376" y="1665.5" font-family="Liberation Serif" font-size="21.5" text-anchor="middle" fill="#000" >81.7</text><text x="1705" y="1688.5" font-family="Liberation Serif" font-size="21.5" text-anchor="end" fill="#000" >(b)</text><path d="M1746.4 1682.0L1751.4 1688.5L1760.9 1673.5" fill="none" stroke="#000" stroke-width="1.9" stroke-linejoin="round"/><path d="M1831.9 1682.0L1836.9 1688.5L1846.4 1673.5" fill="none" stroke="#000" stroke-width="1.9" stroke-linejoin="round"/><text x="1924.3" y="1688.5" font-family="Liberation Serif" font-size="21.5" text-anchor="middle" fill="#000" >-</text><text x="2000.5" y="1688.5" font-family="Liberation Serif" font-size="21.5" text-anchor="middle" fill="#000" >-</text><text x="2083.7" y="1688.5" font-family="Liberation Serif" font-size="21.5" text-anchor="middle" fill="#000" >64.8</text><text x="2159.9" y="1688.5" font-family="Liberation Serif" font-size="21.5" text-anchor="middle" fill="#000" >54.3</text><text x="2230" y="1688.5" font-family="Liberation Serif" font-size="21.5" text-anchor="middle" fill="#000" >77.7</text><text x="2299.4" y="1688.5" font-family="Liberation Serif" font-size="21.5" text-anchor="middle" fill="#000" >68.1</text><text x="2376" y="1688.5" font-family="Liberation Serif" font-size="21.5" text-anchor="middle" fill="#000" >85.7</text><text x="1705" y="1711.5" font-family="Liberation Serif" font-size="21.5" text-anchor="end" fill="#000" >(c)</text><path d="M1746.4 1705.0L1751.4 1711.5L1760.9 1696.5" fill="none" stroke="#000" stroke-width="1.9" stroke-linejoin="round"/><path d="M1831.9 1705.0L1836.9 1711.5L1846.4 1696.5" fill="none" stroke="#000" stroke-width="1.9" stroke-linejoin="round"/><path d="M1917.3 1705.0L1922.3 1711.5L1931.8 1696.5" fill="none" stroke="#000" stroke-width="1.9" stroke-linejoin="round"/><text x="2000.5" y="1711.5" font-family="Liberation Serif" font-size="21.5" text-anchor="middle" fill="#000" >-</text><text x="2083.7" y="1711.5" font-family="Liberation Serif" font-size="21.5" text-anchor="middle" fill="#000" >65.9</text><text x="2159.9" y="1711.5" font-family="Liberation Serif" font-size="21.5" text-anchor="middle" fill="#000" >55.6</text><text x="2230" y="1711.5" font-family="Liberation Serif" font-size="21.5" text-anchor="middle" fill="#000" >78.4</text><text x="2299.4" y="1711.5" font-family="Liberation Serif" font-size="21.5" text-anchor="middle" fill="#000" >68.7</text><text x="2376" y="1711.5" font-family="Liberation Serif" font-size="21.5" text-anchor="middle" fill="#000" >87.4</text><text x="1705" y="1734.5" font-family="Liberation Serif" font-size="21.5" text-anchor="end" fill="#000" >(d)</text><path d="M1746.4 1728.0L1751.4 1734.5L1760.9 1719.5" fill="none" stroke="#000" stroke-width="1.9" stroke-linejoin="round"/><path d="M1831.9 1728.0L1836.9 1734.5L1846.4 1719.5" fill="none" stroke="#000" stroke-width="1.9" stroke-linejoin="round"/><path d="M1917.3 1728.0L1922.3 1734.5L1931.8 1719.5" fill="none" stroke="#000" stroke-width="1.9" stroke-linejoin="round"/><path d="M1993.5 1728.0L1998.5 1734.5L2008.0 1719.5" fill="none" stroke="#000" stroke-width="1.9" stroke-linejoin="round"/><text x="2083.7" y="1734.5" font-family="Liberation Serif" font-size="21.5" text-anchor="middle" fill="#000" font-weight="bold" >67.2</text><text x="2159.9" y="1734.5" font-family="Liberation Serif" font-size="21.5" text-anchor="middle" fill="#000" font-weight="bold" >57.7</text><text x="2230" y="1734.5" font-family="Liberation Serif" font-size="21.5" text-anchor="middle" fill="#000" font-weight="bold" >78.6</text><text x="2299.4" y="1734.5" font-family="Liberation Serif" font-size="21.5" text-anchor="middle" fill="#000" font-weight="bold" >71.3</text><text x="2376" y="1734.5" font-family="Liberation Serif" font-size="21.5" text-anchor="middle" fill="#000" font-weight="bold" >88.1</text><text x="1392.2" y="1769" font-family="Liberation Serif" font-size="21.5" text-anchor="start" fill="#8C8C8C" >MOTR<tspan fill="#8A8AE6" text-decoration="underline"> (Zeng et al., 2022)</tspan></text><text x="1392.2" y="1792" font-family="Liberation Serif" font-size="21.5" text-anchor="start" fill="#8C8C8C" >MeMOTR<tspan fill="#8A8AE6" text-decoration="underline"> (Gao &amp; Wang, 2023)</tspan></text><text x="1705" y="1769" font-family="Liberation Serif" font-size="21.5" text-anchor="end" fill="#8C8C8C" >(e)</text><text x="1705" y="1792" font-family="Liberation Serif" font-size="21.5" text-anchor="end" fill="#8C8C8C" >(f)</text><text x="1753.4" y="1769" font-family="Liberation Serif" font-size="21.5" text-anchor="middle" fill="#8C8C8C" >-</text><text x="1838.9" y="1769" font-family="Liberation Serif" font-size="21.5" text-anchor="middle" fill="#8C8C8C" >-</text><text x="1924.3" y="1769" font-family="Liberation Serif" font-size="21.5" text-anchor="middle" fill="#8C8C8C" >-</text><text x="2000.5" y="1769" font-family="Liberation Serif" font-size="21.5" text-anchor="middle" fill="#8C8C8C" >-</text><text x="2083.7" y="1769" font-family="Liberation Serif" font-size="21.5" text-anchor="middle" fill="#8C8C8C" >54.2</text><text x="2159.9" y="1769" font-family="Liberation Serif" font-size="21.5" text-anchor="middle" fill="#8C8C8C" >40.2</text><text x="2230" y="1769" font-family="Liberation Serif" font-size="21.5" text-anchor="middle" fill="#8C8C8C" >73.5</text><text x="2299.4" y="1769" font-family="Liberation Serif" font-size="21.5" text-anchor="middle" fill="#8C8C8C" >51.5</text><text x="2376" y="1769" font-family="Liberation Serif" font-size="21.5" text-anchor="middle" fill="#8C8C8C" >79.7</text><text x="1753.4" y="1792" font-family="Liberation Serif" font-size="21.5" text-anchor="middle" fill="#8C8C8C" >-</text><text x="1838.9" y="1792" font-family="Liberation Serif" font-size="21.5" text-anchor="middle" fill="#8C8C8C" >-</text><text x="1924.3" y="1792" font-family="Liberation Serif" font-size="21.5" text-anchor="middle" fill="#8C8C8C" >-</text><text x="2000.5" y="1792" font-family="Liberation Serif" font-size="21.5" text-anchor="middle" fill="#8C8C8C" >-</text><text x="2083.7" y="1792" font-family="Liberation Serif" font-size="21.5" text-anchor="middle" fill="#8C8C8C" >63.4</text><text x="2159.9" y="1792" font-family="Liberation Serif" font-size="21.5" text-anchor="middle" fill="#8C8C8C" >52.3</text><text x="2230" y="1792" font-family="Liberation Serif" font-size="21.5" text-anchor="middle" fill="#8C8C8C" >77.0</text><text x="2299.4" y="1792" font-family="Liberation Serif" font-size="21.5" text-anchor="middle" fill="#8C8C8C" >65.5</text><text x="2376" y="1792" font-family="Liberation Serif" font-size="21.5" text-anchor="middle" fill="#8C8C8C" >85.4</text></svg>
<div class="a cap" style="left:1453px;top:1540px;font-size:26px;line-height:32px">Schematic illustration of SambaMOTR’s additional method components</div>
<div class="a cap" style="left:1514px;top:1814px;font-size:26px;line-height:32px">Ablation on method components on the DanceTrack test set</div>
<!-- /P4CONTENT -->
<!-- ===== PANEL 5 ===== -->
<div class="panel" style="left:2513px;top:1031px;width:1237px;height:645px">
  <div class="ph" style="height:59px;font-size:39px;line-height:61px;letter-spacing:-0.45px">5. Quantitative Results</div>
</div>

<!-- P5CONTENT --><svg style="left:2600px;top:1100px;text-decoration-skip-ink:none" width="1060" height="520" viewBox="2600 1100 1060 520"><line x1="2612.6" y1="1113" x2="3641" y2="1113" stroke="#000" stroke-width="2.2"/><line x1="2612.6" y1="1150.4" x2="3641" y2="1150.4" stroke="#000" stroke-width="1.6"/><line x1="2612.6" y1="1258" x2="3641" y2="1258" stroke="#D0D0D0" stroke-width="1"/><line x1="2612.6" y1="1296" x2="3641" y2="1296" stroke="#D0D0D0" stroke-width="1"/><line x1="2612.6" y1="1332.6" x2="3641" y2="1332.6" stroke="#D0D0D0" stroke-width="1"/><line x1="2612.6" y1="1547.7" x2="3641" y2="1547.7" stroke="#D0D0D0" stroke-width="1"/><line x1="2612.6" y1="1440" x2="3641" y2="1440" stroke="#333" stroke-width="1.8"/><line x1="2612.6" y1="1609" x2="3641" y2="1609" stroke="#000" stroke-width="2.2"/><text x="2625.6" y="1137.8" font-family="Liberation Serif" font-size="21" text-anchor="start" fill="#000">Methods</text><text x="2925" y="1137.8" font-family="Liberation Serif" font-size="21" text-anchor="start" fill="#000">Detector</text><text x="3296" y="1137.8" font-family="Liberation Serif" font-size="21" text-anchor="middle" fill="#000">HOTA</text><text x="3373" y="1137.8" font-family="Liberation Serif" font-size="21" text-anchor="middle" fill="#000">AssA</text><text x="3446.6" y="1137.8" font-family="Liberation Serif" font-size="21" text-anchor="middle" fill="#000">DetA</text><text x="3518" y="1137.8" font-family="Liberation Serif" font-size="21" text-anchor="middle" fill="#000">IDF1</text><text x="3598" y="1137.8" font-family="Liberation Serif" font-size="21" text-anchor="middle" fill="#000">MOTA</text><text x="2625.6" y="1174.5" font-family="Liberation Serif" font-size="21" text-anchor="start" fill="#000" font-weight="bold" font-style="italic">Tracking-by-detection:</text><text x="2625.6" y="1198" font-family="Liberation Serif" font-size="21" text-anchor="start" fill="#000">FairMOT<tspan fill="#2020B0" text-decoration="underline"> (Zhang et al., 2021)</tspan></text><text x="3296" y="1198" font-family="Liberation Serif" font-size="21" text-anchor="middle" fill="#000">39.7</text><text x="3373" y="1198" font-family="Liberation Serif" font-size="21" text-anchor="middle" fill="#000">23.8</text><text x="3446.6" y="1198" font-family="Liberation Serif" font-size="21" text-anchor="middle" fill="#000">66.7</text><text x="3518" y="1198" font-family="Liberation Serif" font-size="21" text-anchor="middle" fill="#000">40.8</text><text x="3598" y="1198" font-family="Liberation Serif" font-size="21" text-anchor="middle" fill="#000">82.2</text><text x="2625.6" y="1221.5" font-family="Liberation Serif" font-size="21" text-anchor="start" fill="#000">CenterTrack<tspan fill="#2020B0" text-decoration="underline"> (Zhou et al., 2020)</tspan></text><text x="3296" y="1221.5" font-family="Liberation Serif" font-size="21" text-anchor="middle" fill="#000">41.8</text><text x="3373" y="1221.5" font-family="Liberation Serif" font-size="21" text-anchor="middle" fill="#000">22.6</text><text x="3446.6" y="1221.5" font-family="Liberation Serif" font-size="21" text-anchor="middle" fill="#000">78.1</text><text x="3518" y="1221.5" font-family="Liberation Serif" font-size="21" text-anchor="middle" fill="#000">35.7</text><text x="3598" y="1221.5" font-family="Liberation Serif" font-size="21" text-anchor="middle" fill="#000">86.8</text><text x="2625.6" y="1245" font-family="Liberation Serif" font-size="21" text-anchor="start" fill="#000">TraDeS<tspan fill="#2020B0" text-decoration="underline"> (Wu et al., 2021)</tspan></text><text x="3296" y="1245" font-family="Liberation Serif" font-size="21" text-anchor="middle" fill="#000">43.3</text><text x="3373" y="1245" font-family="Liberation Serif" font-size="21" text-anchor="middle" fill="#000">25.4</text><text x="3446.6" y="1245" font-family="Liberation Serif" font-size="21" text-anchor="middle" fill="#000">74.5</text><text x="3518" y="1245" font-family="Liberation Serif" font-size="21" text-anchor="middle" fill="#000">41.2</text><text x="3598" y="1245" font-family="Liberation Serif" font-size="21" text-anchor="middle" fill="#000">86.2</text><text x="2625.6" y="1281.8" font-family="Liberation Serif" font-size="21" text-anchor="start" fill="#000">TransTrack<tspan fill="#2020B0" text-decoration="underline"> (Sun et al., 2020)</tspan></text><text x="3296" y="1281.8" font-family="Liberation Serif" font-size="21" text-anchor="middle" fill="#000">45.5</text><text x="3373" y="1281.8" font-family="Liberation Serif" font-size="21" text-anchor="middle" fill="#000">27.5</text><text x="3446.6" y="1281.8" font-family="Liberation Serif" font-size="21" text-anchor="middle" fill="#000">75.9</text><text x="3518" y="1281.8" font-family="Liberation Serif" font-size="21" text-anchor="middle" fill="#000">45.2</text><text x="3598" y="1281.8" font-family="Liberation Serif" font-size="21" text-anchor="middle" fill="#000">88.4</text><text x="2625.6" y="1318.4" font-family="Liberation Serif" font-size="21" text-anchor="start" fill="#000">GTR<tspan fill="#2020B0" text-decoration="underline"> (Zhou et al., 2022)</tspan></text><text x="3296" y="1318.4" font-family="Liberation Serif" font-size="21" text-anchor="middle" fill="#000">48.0</text><text x="3373" y="1318.4" font-family="Liberation Serif" font-size="21" text-anchor="middle" fill="#000">31.9</text><text x="3446.6" y="1318.4" font-family="Liberation Serif" font-size="21" text-anchor="middle" fill="#000">72.5</text><text x="3518" y="1318.4" font-family="Liberation Serif" font-size="21" text-anchor="middle" fill="#000">50.3</text><text x="3598" y="1318.4" font-family="Liberation Serif" font-size="21" text-anchor="middle" fill="#000">84.7</text><text x="2625.6" y="1356" font-family="Liberation Serif" font-size="21" text-anchor="start" fill="#000">ByteTrack<tspan fill="#2020B0" text-decoration="underline"> (Zhang et al., 2022)</tspan></text><text x="3296" y="1356" font-family="Liberation Serif" font-size="21" text-anchor="middle" fill="#000">47.7</text><text x="3373" y="1356" font-family="Liberation Serif" font-size="21" text-anchor="middle" fill="#000">32.1</text><text x="3446.6" y="1356" font-family="Liberation Serif" font-size="21" text-anchor="middle" fill="#000">71.0</text><text x="3518" y="1356" font-family="Liberation Serif" font-size="21" text-anchor="middle" fill="#000">53.9</text><text x="3598" y="1356" font-family="Liberation Serif" font-size="21" text-anchor="middle" fill="#000">89.6</text><text x="2625.6" y="1379.7" font-family="Liberation Serif" font-size="21" text-anchor="start" fill="#000">QDTrack<tspan fill="#2020B0" text-decoration="underline"> (Pang et al., 2021)</tspan></text><text x="3296" y="1379.7" font-family="Liberation Serif" font-size="21" text-anchor="middle" fill="#000">54.2</text><text x="3373" y="1379.7" font-family="Liberation Serif" font-size="21" text-anchor="middle" fill="#000">36.8</text><text x="3446.6" y="1379.7" font-family="Liberation Serif" font-size="21" text-anchor="middle" fill="#000">80.1</text><text x="3518" y="1379.7" font-family="Liberation Serif" font-size="21" text-anchor="middle" fill="#000">50.4</text><text x="3598" y="1379.7" font-family="Liberation Serif" font-size="21" text-anchor="middle" fill="#000">87.7</text><text x="2625.6" y="1403.3" font-family="Liberation Serif" font-size="21" text-anchor="start" fill="#000">OC-SORT<tspan fill="#2020B0" text-decoration="underline"> (Cao et al., 2023)</tspan></text><text x="3296" y="1403.3" font-family="Liberation Serif" font-size="21" text-anchor="middle" fill="#000">55.1</text><text x="3373" y="1403.3" font-family="Liberation Serif" font-size="21" text-anchor="middle" fill="#000">38.3</text><text x="3446.6" y="1403.3" font-family="Liberation Serif" font-size="21" text-anchor="middle" fill="#000">80.3</text><text x="3518" y="1403.3" font-family="Liberation Serif" font-size="21" text-anchor="middle" fill="#000">54.6</text><text x="3598" y="1403.3" font-family="Liberation Serif" font-size="21" text-anchor="middle" fill="#000"><tspan text-decoration="underline">92.0</tspan></text><text x="2625.6" y="1427" font-family="Liberation Serif" font-size="21" text-anchor="start" fill="#000">C-BIoU<tspan fill="#2020B0" text-decoration="underline"> (Yang et al., 2023)</tspan></text><text x="3296" y="1427" font-family="Liberation Serif" font-size="21" text-anchor="middle" fill="#000">60.6</text><text x="3373" y="1427" font-family="Liberation Serif" font-size="21" text-anchor="middle" fill="#000">45.4</text><text x="3446.6" y="1427" font-family="Liberation Serif" font-size="21" text-anchor="middle" fill="#000"><tspan text-decoration="underline">81.3</tspan></text><text x="3518" y="1427" font-family="Liberation Serif" font-size="21" text-anchor="middle" fill="#000">61.6</text><text x="3598" y="1427" font-family="Liberation Serif" font-size="21" text-anchor="middle" fill="#000">91.6</text><text x="2625.6" y="1487.5" font-family="Liberation Serif" font-size="21" text-anchor="start" fill="#000">MOTR<tspan fill="#2020B0" text-decoration="underline"> (Zeng et al., 2022)</tspan></text><text x="3296" y="1487.5" font-family="Liberation Serif" font-size="21" text-anchor="middle" fill="#000">54.2</text><text x="3373" y="1487.5" font-family="Liberation Serif" font-size="21" text-anchor="middle" fill="#000">40.2</text><text x="3446.6" y="1487.5" font-family="Liberation Serif" font-size="21" text-anchor="middle" fill="#000">73.5</text><text x="3518" y="1487.5" font-family="Liberation Serif" font-size="21" text-anchor="middle" fill="#000">51.5</text><text x="3598" y="1487.5" font-family="Liberation Serif" font-size="21" text-anchor="middle" fill="#000">79.7</text><text x="2625.6" y="1511" font-family="Liberation Serif" font-size="21" text-anchor="start" fill="#000">MeMOTR<tspan fill="#2020B0" text-decoration="underline"> (Gao &amp; Wang, 2023)</tspan></text><text x="3296" y="1511" font-family="Liberation Serif" font-size="21" text-anchor="middle" fill="#000">63.4</text><text x="3373" y="1511" font-family="Liberation Serif" font-size="21" text-anchor="middle" fill="#000">52.3</text><text x="3446.6" y="1511" font-family="Liberation Serif" font-size="21" text-anchor="middle" fill="#000">77.0</text><text x="3518" y="1511" font-family="Liberation Serif" font-size="21" text-anchor="middle" fill="#000">65.5</text><text x="3598" y="1511" font-family="Liberation Serif" font-size="21" text-anchor="middle" fill="#000">85.4</text><text x="2625.6" y="1534.5" font-family="Liberation Serif" font-size="21" text-anchor="start" fill="#000">SambaMOTR (ours)</text><text x="3296" y="1534.5" font-family="Liberation Serif" font-size="21" text-anchor="middle" fill="#000"><tspan font-weight="bold">67.2</tspan></text><text x="3373" y="1534.5" font-family="Liberation Serif" font-size="21" text-anchor="middle" fill="#000"><tspan font-weight="bold">57.7</tspan></text><text x="3446.6" y="1534.5" font-family="Liberation Serif" font-size="21" text-anchor="middle" fill="#000"><tspan font-weight="bold">78.6</tspan></text><text x="3518" y="1534.5" font-family="Liberation Serif" font-size="21" text-anchor="middle" fill="#000"><tspan font-weight="bold">71.3</tspan></text><text x="3598" y="1534.5" font-family="Liberation Serif" font-size="21" text-anchor="middle" fill="#000"><tspan font-weight="bold">88.1</tspan></text><text x="2625.6" y="1572" font-family="Liberation Serif" font-size="21" text-anchor="start" fill="#000">MeMOTR<tspan fill="#2020B0" text-decoration="underline"> (Gao &amp; Wang, 2023)</tspan></text><text x="3296" y="1572" font-family="Liberation Serif" font-size="21" text-anchor="middle" fill="#000">68.5</text><text x="3373" y="1572" font-family="Liberation Serif" font-size="21" text-anchor="middle" fill="#000">58.4</text><text x="3446.6" y="1572" font-family="Liberation Serif" font-size="21" text-anchor="middle" fill="#000"><tspan font-weight="bold">80.5</tspan></text><text x="3518" y="1572" font-family="Liberation Serif" font-size="21" text-anchor="middle" fill="#000">71.2</text><text x="3598" y="1572" font-family="Liberation Serif" font-size="21" text-anchor="middle" fill="#000"><tspan font-weight="bold">89.9</tspan></text><text x="2625.6" y="1595.5" font-family="Liberation Serif" font-size="21" text-anchor="start" fill="#000">SambaMOTR (ours)</text><text x="3296" y="1595.5" font-family="Liberation Serif" font-size="21" text-anchor="middle" fill="#000"><tspan font-weight="bold" text-decoration="underline">69.0</tspan></text><text x="3373" y="1595.5" font-family="Liberation Serif" font-size="21" text-anchor="middle" fill="#000"><tspan font-weight="bold" text-decoration="underline">60.0</tspan></text><text x="3446.6" y="1595.5" font-family="Liberation Serif" font-size="21" text-anchor="middle" fill="#000">79.5</text><text x="3518" y="1595.5" font-family="Liberation Serif" font-size="21" text-anchor="middle" fill="#000"><tspan font-weight="bold" text-decoration="underline">74.2</tspan></text><text x="3598" y="1595.5" font-family="Liberation Serif" font-size="21" text-anchor="middle" fill="#000">89.1</text><text x="2625.6" y="1464" font-family="Liberation Serif" font-size="21" text-anchor="start" fill="#000" font-weight="bold" font-style="italic">Tracking-by-propagation:</text><text x="2925" y="1221.5" font-family="Liberation Serif" font-size="21" text-anchor="start" fill="#000">CenterNet<tspan fill="#2020B0" text-decoration="underline"> (Duan et al., 2019)</tspan></text><text x="2925" y="1281.8" font-family="Liberation Serif" font-size="21" text-anchor="start" fill="#000">Deformable DETR<tspan fill="#2020B0" text-decoration="underline"> (Zhu et al., 2020)</tspan></text><text x="2925" y="1318.4" font-family="Liberation Serif" font-size="21" text-anchor="start" fill="#000">CenterNet2<tspan fill="#2020B0" text-decoration="underline"> (Zhou et al., 2021)</tspan></text><rect x="3020" y="1374" width="143" height="24" fill="#DCE6F8"/><text x="2925" y="1391.5" font-family="Liberation Serif" font-size="21" text-anchor="start" fill="#000">YOLOX-X<tspan fill="#2020B0" text-decoration="underline"> (Ge et al., 2021)</tspan></text><text x="2925" y="1511" font-family="Liberation Serif" font-size="21" text-anchor="start" fill="#000">Deformable DETR<tspan fill="#2020B0" text-decoration="underline"> (Zhu et al., 2020)</tspan></text><text x="2930" y="1583.5" font-family="Liberation Serif" font-size="21" text-anchor="start" fill="#000">DAB-D-DETR<tspan fill="#2020B0" text-decoration="underline"> (Liu et al., 2022)</tspan></text></svg>
<div class="a cap" style="left:2793px;top:1626px;font-size:26px;line-height:32px">State-of-the-art comparison on the DanceTrack test set</div>
<div class="a" style="left:2556px;top:1716px;font-size:27px;line-height:34px;font-weight:bold;color:#2F5597">References:</div>
<div class="a" style="left:2556px;top:1760px;font-size:23px;line-height:27.9px;letter-spacing:0.1px">
<div>[1] Zeng et al. ”MOTR: End-to-end multiple-object tracking with transformer.” <i>ECCV</i> 2022.</div>
<div>[2] Gao et al. "MeMOTR: Long-term memory-augmented transformer for multi-object tracking." <i>ICCV</i> 2023.</div>
<div>[3] Gu et al. "Mamba: Linear-time sequence modeling with selective state spaces." COLM <i>2024</i>.</div>
</div>
<!-- /P5CONTENT -->
<!-- ===== REFERENCES ===== -->
<div class="a" style="left:2513px;top:1694px;width:1237px;height:169px;border:3px solid #2F5597"></div>

</body></html>
